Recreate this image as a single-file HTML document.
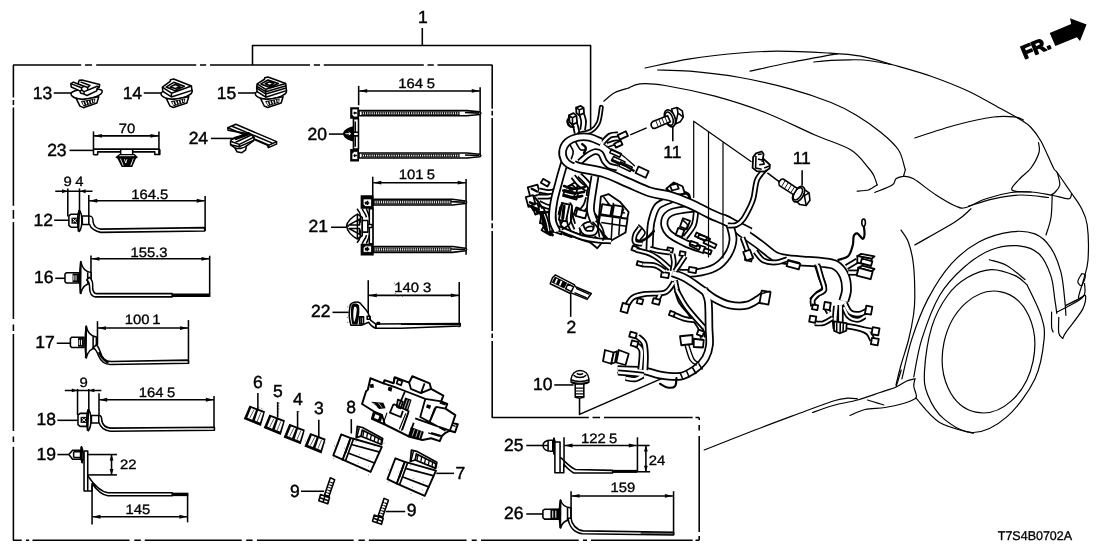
<!DOCTYPE html>
<html><head><meta charset="utf-8"><title>T7S4B0702A</title>
<style>
html,body{margin:0;padding:0;background:#fff;}
svg{display:block;filter:grayscale(1)}
text{text-rendering:geometricPrecision;font-family:"Liberation Sans",Arial,Helvetica,sans-serif;fill:#000;stroke:#000;stroke-width:0.32px}
.l{fill:none;stroke:#000;stroke-width:1.55;stroke-linejoin:round;vector-effect:non-scaling-stroke}
.t{fill:none;stroke:#000;stroke-width:0.8;stroke-linejoin:round;vector-effect:non-scaling-stroke}
.b{fill:none;stroke:#000;stroke-width:1.6;stroke-linejoin:round;stroke-linecap:round;vector-effect:non-scaling-stroke}
.w{fill:#fff;stroke:#000;stroke-width:1.55;stroke-linejoin:round;vector-effect:non-scaling-stroke}
.wb{fill:#fff;stroke:#000;stroke-width:1.8;stroke-linejoin:round;vector-effect:non-scaling-stroke}
.wt{fill:#fff;stroke:#000;stroke-width:0.8;stroke-linejoin:round;vector-effect:non-scaling-stroke}
.c{fill:none;stroke:#000;stroke-width:1.2;stroke-linejoin:round;stroke-linecap:round}
.k{fill:#000;stroke:none}
.g{fill:#777;stroke:none}
.n{font-size:17.5px;stroke-width:0.45px}
.d{font-size:13.5px}
</style></head><body>
<svg width="1108" height="554" viewBox="0 0 1108 554">
<rect width="1108" height="554" fill="#fff"/>
<text class="n" transform="translate(423.00 23.30) scale(1.0 1)" x="-5.07" y="0">1</text>
<path class="l" d="M422.3,28 V45.5 M252.5,65 V45.5 H590.6 V129"/>
<path class="l" d="M13.4,65 V97.5 M13.4,100 V105 M13.4,107.5 V205.7 M13.4,210 V218.7 M13.4,222 V319 M13.4,324.4 V331 M13.4,334 V431 M13.4,436.6 V442 M13.4,446.7 V540.3"/>
<path class="l" d="M13,65 H81.2 M85,65 H92 M96.2,65 H196.2 M200,65 H206.2 M210,65 H310 M313.8,65 H320 M323.8,65 H423.8 M427.5,65 H433.8 M437.5,65 H492.5"/>
<path class="l" d="M13,540.3 H21.7 M26,540.3 H29.2 M32.5,540.3 H129.5 M134.3,540.3 H140.8 M144.7,540.3 H241.7 M246.2,540.3 H252.6 M256.9,540.3 H353.7 M358.5,540.3 H364.8 M368.8,540.3 H466.6 M471.7,540.3 H476.7 M481,540.3 H578.7 M583,540.3 H587 M591,540.3 H692.7 M695.5,540.3 H699.2"/>
<path class="l" d="M492.2,65 V108.7 M492.2,110.8 V115.5 M492.2,118 V220.5 M492.2,223.3 V228.2 M492.2,231 V331 M492.2,333.5 V338 M492.2,341 V417.5"/>
<path class="l" d="M491.7,417.5 H588.8 M592.5,417.5 H600.1 M604,417.5 H692.7 M695.5,417.5 H699.2 M699.2,417.5 V420 M699.2,425 V430.6 M699.2,436 V532 M699.2,536 V540.3"/>
<text class="n" transform="translate(42.75 98.75) scale(1.0 1)" x="-9.97" y="0">13</text>
<path class="l" d="M53.75,93.0 L71.25,93.0"/>
<text class="n" transform="translate(132.75 98.75) scale(1.0 1)" x="-10.11" y="0">14</text>
<path class="l" d="M143.75,93.0 L162.0,93.0"/>
<text class="n" transform="translate(226.88 98.75) scale(1.0 1)" x="-10.02" y="0">15</text>
<path class="l" d="M238.0,93.0 L256.25,93.0"/>
<g transform="translate(86.5 93.5) scale(0.12636)" ><path class="w" d="M-112,-12 C-140,5 -112,38 -40,47 C40,48 132,12 124,-22 C110,-45 -60,-45 -112,-12Z"/><path class="w" d="M-82,38 L-52,100 L-25,112 L82,76 L97,26 L-30,48Z"/><path class="k" d="M-45,62 L70,40 L66,72 L-22,102 Z"/><path d="M-30,66 L-18,92 M-8,62 L2,86 M14,58 L22,80 M36,52 L42,74 M56,48 L58,68" stroke="#fff" stroke-width="9" fill="none"/><path class="w" d="M-124,-78 L-104,-90 L-67,-75 L-58,-104 L-36,-107 L104,-72 L101,-50 L84,-41 L81,-21 L4,16 L-21,5 L-47,-4 L-53,-21 L-121,-52 Z"/><path class="l" d="M-67,-75 L10,-47 L27,-64 L-47,-92 M-124,-78 L-40,-45 L-36,-25 L-53,-21 M-40,-45 L-20,-58 M-21,5 L-18,-15 L84,-58 L101,-50 M-18,-15 L-36,-25 M10,-47 L8,-30"/></g>
<g transform="translate(176.5 93.4) scale(0.12636)" ><path class="w" d="M-112,-12 C-140,5 -112,38 -40,47 C40,48 132,12 124,-22 C110,-45 -60,-45 -112,-12Z"/><path class="w" d="M-82,38 L-52,100 L-25,112 L82,76 L97,26 L-30,48Z"/><path class="k" d="M-45,62 L70,40 L66,72 L-22,102 Z"/><path d="M-30,66 L-18,92 M-8,62 L2,86 M14,58 L22,80 M36,52 L42,74 M56,48 L58,68" stroke="#fff" stroke-width="9" fill="none"/><path class="w" d="M-112,-50 L-50,-95 L-48,-108 L-22,-114 L118,-58 L122,-24 L-40,28 L-108,-16 Z"/><path class="l" d="M-112,-50 L-40,-2 L118,-58 M-40,-2 L-40,28 M-82,-50 L-22,-88 L62,-56 L-14,-22 Z M-50,-50 L-12,-70 L28,-55 L-10,-38Z"/></g>
<g transform="translate(270.8 93.4) scale(0.12636)" ><path class="w" d="M-112,-12 C-140,5 -112,38 -40,47 C40,48 132,12 124,-22 C110,-45 -60,-45 -112,-12Z"/><path class="w" d="M-82,38 L-52,100 L-25,112 L82,76 L97,26 L-30,48Z"/><path class="k" d="M-45,62 L70,40 L66,72 L-22,102 Z"/><path d="M-30,66 L-18,92 M-8,62 L2,86 M14,58 L22,80 M36,52 L42,74 M56,48 L58,68" stroke="#fff" stroke-width="9" fill="none"/><path class="w" d="M-112,-42 L-108,-75 L-50,-112 L-48,-124 L-22,-130 L118,-78 L124,-22 L-40,30 L-108,-14 Z"/><path class="l" d="M-108,-75 L-40,-32 L118,-78 M-112,-58 L-40,-14 L122,-60 M-112,-42 L-40,4 L122,-42 M-40,-32 L-40,30 M-78,-75 L-22,-106 L60,-78 L-14,-48 Z M-44,-76 L-12,-92 L24,-79 L-10,-62Z"/></g>
<text class="d" transform="translate(126.97 133.32) scale(1.1 1)" x="-7.56" y="0">70</text>
<path class="l" d="M93.48,131.43 L93.48,154.8"/>
<path class="l" d="M158.94,131.43 L158.94,154.42"/>
<path class="l" d="M93.86,135.85 L158.56,135.85"/>
<path class="k" d="M93.86,135.85 L101.86,133.95 L101.86,137.75Z"/>
<path class="k" d="M158.56,135.85 L150.56,137.75 L150.56,133.95Z"/>
<text class="n" transform="translate(56.88 156.25) scale(1.0 1)" x="-9.76" y="0">23</text>
<path class="l" d="M69.48,150.38 L93.48,150.38"/>
<g transform="translate(60 115) scale(0.12636)" ><path class="l" d="M265,270 H783 L790,276 V312 H750 V292 H575 M480,292 H298 V315 H265 M480,270 V308 M575,270 V308"/><path class="k" d="M438,335 L470,308 H590 L617,335 L600,347 L572,412 H488 L455,347Z"/><path d="M470,322 H588 M478,345 L500,400 M560,400 L580,345 M510,350 L520,380 L530,350" stroke="#fff" stroke-width="7" fill="none"/></g>
<text class="n" transform="translate(198.51 144.12) scale(1.0 1)" x="-9.89" y="0">24</text>
<path class="l" d="M210.96,138.43 L233.07,138.43"/>
<g transform="translate(180 110) scale(0.12636)" ><path class="w" d="M378,140 L442,113 L765,250 L763,270 L700,298 L690,278 L585,232 L585,215 L545,200 L520,185 L380,160Z"/><path class="l" d="M378,140 L705,278 L765,250 M705,278 L700,298 M412,128 L735,264"/><path class="w" d="M405,235 L545,180 L585,215 L585,240 L525,285 L520,315 L490,338 L450,330 L435,300 L400,275 L400,250Z"/><path class="k" d="M420,215 L545,180 L560,195 L440,240Z"/><path class="l" d="M405,250 L470,272 L585,215 M470,272 L470,290 L585,240 M400,275 L470,290 M435,300 C460,310 500,305 525,285 M440,255 L560,200"/></g>
<text class="d" transform="translate(67.58 186.25) scale(1.1 1)" x="-3.75" y="0">9</text>
<text class="d" transform="translate(79.38 186.25) scale(1.1 1)" x="-3.71" y="0">4</text>
<path class="l" d="M55.23,191.23 L92.49,191.23"/>
<path class="k" d="M67.58,191.23 L62.08,193.13 L62.08,189.33Z"/>
<path class="k" d="M80.14,191.23 L85.64,189.33 L85.64,193.13Z"/>
<path class="l" d="M67.8,188.41 L67.8,216.57"/>
<path class="l" d="M79.49,188.41 L79.49,212.24"/>
<text class="d" transform="translate(150.00 199.24) scale(1.1 1)" x="-17.11" y="0">164.5</text>
<path class="l" d="M89.24,200.76 L204.69,200.76"/>
<path class="k" d="M89.24,200.76 L97.24,198.86 L97.24,202.66Z"/>
<path class="k" d="M204.69,200.76 L196.69,202.66 L196.69,198.86Z"/>
<path class="l" d="M88.81,194.91 L88.81,216.57"/>
<path class="l" d="M205.12,195.99 L205.12,231.08"/>
<text class="n" transform="translate(43.33 225.88) scale(1.0 1)" x="-9.93" y="0">12</text>
<path class="l" d="M54.15,220.25 L68.23,220.25"/>
<g transform="translate(0 170) scale(0.21660)" ><path class="w" d="M318,212 L328,204 H362 V264 H328 L318,256Z"/><path class="k" d="M330,220 H360 V248 H330Z"/><path d="M336,226 L354,242 M336,242 L354,226" stroke="#fff" stroke-width="1" fill="none" vector-effect="non-scaling-stroke"/><path class="w" d="M366,186.0 C382,204.0 382,264.0 366,284.0 C356,264.0 356,204.0 366,186.0Z"/><path class="l" d="M366,186.0 L362,284.0" style="stroke-width:1.8"/><path class="w" d="M380,212 H412 C428,212 430,222 430,240 C432,258 448,270 465,273 L945,266 V282 L465,288 C440,284 418,268 414,252 H380Z"/><path class="l" d="M410,212 V252"/></g>
<text class="d" transform="translate(149.25 256.64) scale(1.1 1)" x="-17.08" y="0">155.3</text>
<path class="l" d="M91.41,258.81 L209.46,258.81"/>
<path class="k" d="M91.41,258.81 L99.41,256.91 L99.41,260.71Z"/>
<path class="k" d="M209.46,258.81 L201.46,260.71 L201.46,256.91Z"/>
<path class="l" d="M90.97,255.56 L90.97,282.63"/>
<path class="l" d="M209.67,255.74 L209.67,296.9"/>
<text class="n" transform="translate(43.97 283.07) scale(1.0 1)" x="-9.97" y="0">16</text>
<path class="l" d="M55.23,278.3 L68.88,278.3"/>
<g transform="translate(0 170) scale(0.21660)" ><path class="w" d="M300,480 L307,474 H363 V522 H307 L300,516Z"/><path class="k" d="M335,478 H361 V518 H335Z"/><path d="M341,486 V510 M351,486 V510" stroke="#fff" stroke-width="1" fill="none" vector-effect="non-scaling-stroke"/><path class="w" d="M373,423 C380,458 395,470 420,473 V523 C395,526 380,538 373,570 C367,528 367,468 373,423Z"/><path class="l" d="M373,423 L371,570" style="stroke-width:1.8"/><path class="l" d="M405,472 V524"/></g>
<g transform="translate(0 280) scale(0.21660)" ><path class="w" d="M412,-12 C425,-5 430,10 428,40 C430,55 436,62 445,63 H795 V78 H440 C425,76 415,60 414,40 C414,20 410,5 400,0Z"/><path class="k" d="M795,62 H968 V78 H795Z"/></g>
<text class="d" transform="translate(137.33 324.40) scale(1.1 1)" x="-11.47" y="0">100</text>
<text class="d" transform="translate(156.50 324.40) scale(1.1 1)" x="-3.92" y="0">1</text>
<path class="l" d="M97.91,328.09 L188.01,328.09"/>
<path class="k" d="M97.91,328.09 L105.91,326.19 L105.91,329.99Z"/>
<path class="k" d="M188.01,328.09 L180.01,329.99 L180.01,326.19Z"/>
<path class="l" d="M97.47,321.15 L97.47,344.98"/>
<path class="l" d="M188.45,320.07 L188.45,364.04"/>
<text class="n" transform="translate(45.16 348.23) scale(1.0 1)" x="-9.93" y="0">17</text>
<path class="l" d="M56.75,343.25 L70.4,343.25"/>
<g transform="translate(0 280) scale(0.21660)" ><path class="w" d="M325,270 L332,264 H388 V312 H332 L325,306Z"/><path class="k" d="M360,268 H386 V308 H360Z"/><path d="M366,276 V300 M376,276 V300" stroke="#fff" stroke-width="1" fill="none" vector-effect="non-scaling-stroke"/><path class="w" d="M398,213 C405,248 420,260 445,263 V313 C420,316 405,328 398,360 C392,318 392,258 398,213Z"/><path class="l" d="M398,213 L396,360" style="stroke-width:1.8"/><path class="l" d="M430,262 V314"/><path class="w" d="M445,300 C455,305 462,330 470,350 C480,370 495,376 515,376 L870,370 V384 L510,390 C480,390 465,375 455,350 C448,330 440,318 430,312Z"/><path class="k" d="M462,330 C470,352 482,368 505,376 L498,386 C475,376 462,356 452,336Z"/></g>
<text class="d" transform="translate(83.61 387.22) scale(1.1 1)" x="-3.75" y="0">9</text>
<path class="l" d="M64.76,390.47 L101.37,390.47"/>
<path class="k" d="M77.33,390.47 L71.83,392.37 L71.83,388.57Z"/>
<path class="k" d="M88.81,390.47 L94.31,388.57 L94.31,392.37Z"/>
<path class="l" d="M77.54,388.92 L77.54,414.91"/>
<path class="l" d="M88.81,388.92 L88.81,410.58"/>
<text class="d" transform="translate(151.41 396.97) scale(1.1 1)" x="-11.54" y="0">164</text>
<text class="d" transform="translate(171.12 396.97) scale(1.1 1)" x="-3.75" y="0">5</text>
<path class="l" d="M99.21,399.75 L213.79,399.75"/>
<path class="k" d="M99.21,399.75 L107.21,397.85 L107.21,401.65Z"/>
<path class="k" d="M213.79,399.75 L205.79,401.65 L205.79,397.85Z"/>
<path class="l" d="M98.99,393.25 L98.99,416.43"/>
<path class="l" d="M214.01,396.06 L214.01,430.29"/>
<text class="n" transform="translate(46.46 425.09) scale(1.0 1)" x="-10.02" y="0">18</text>
<path class="l" d="M57.4,420.32 L77.54,420.32"/>
<g transform="translate(0 390) scale(0.21660)" ><path class="w" d="M360,116 L370,108 H404 V168 H370 L360,160Z"/><path class="k" d="M372,124 H402 V152 H372Z"/><path d="M378,130 L396,146 M378,146 L396,130" stroke="#fff" stroke-width="1" fill="none" vector-effect="non-scaling-stroke"/><path class="w" d="M408,90.0 C424,108.0 424,168.0 408,188.0 C398,168.0 398,108.0 408,90.0Z"/><path class="l" d="M408,90.0 L404,188.0" style="stroke-width:1.8"/><path class="w" d="M422,118 H458 C468,118 470,128 470,142 C474,162 490,174 510,176 L990,172 V186 L510,190 C482,188 462,170 458,152 H422Z"/><path class="l" d="M456,118 V152"/></g>
<text class="n" transform="translate(46.46 459.75) scale(1.0 1)" x="-9.97" y="0">19</text>
<path class="l" d="M57.4,454.55 L68.88,454.55"/>
<g transform="translate(0 390) scale(0.21660)" ><path class="w" d="M318,298 L335,278 H372 V320 H335Z"/><path class="l" d="M340,285 V312 M340,285 H372 M340,312 H372"/><path class="w" d="M376,262 C386,280 386,318 380,336 C372,318 372,280 376,262Z"/><path class="l" d="M376,262 L378,336" style="stroke-width:1.8"/><path class="w" d="M388,282 H405 V395 C425,425 460,470 500,474 L795,474 V488 L498,488 C470,486 445,460 425,432 V466 H388Z"/><path class="k" d="M795,474 H870 V490 H795Z"/><path class="l" d="M405,395 V466"/></g>
<path class="l" d="M87.72,454.55 L116.97,454.55"/>
<path class="l" d="M87.72,474.91 L116.97,474.91"/>
<path class="l" d="M111.55,454.55 L111.55,474.91"/>
<path class="k" d="M111.55,454.55 L113.45,460.55 L109.65,460.55Z"/>
<path class="k" d="M111.55,474.91 L109.65,468.91 L113.45,468.91Z"/>
<text class="d" transform="translate(128.12 469.06) scale(1.1 1)" x="-7.49" y="0">22</text>
<text class="d" transform="translate(138.09 514.14) scale(1.1 1)" x="-11.47" y="0">145</text>
<path class="l" d="M92.49,516.74 L187.36,516.74"/>
<path class="k" d="M92.49,516.74 L100.49,514.84 L100.49,518.64Z"/>
<path class="k" d="M187.36,516.74 L179.36,518.64 L179.36,514.84Z"/>
<path class="l" d="M92.06,484.9 L92.06,524.54"/>
<path class="l" d="M187.58,495.73 L187.58,522.37"/>
<text class="n" transform="translate(513.84 451.35) scale(1.0 1)" x="-9.80" y="0">25</text>
<path class="l" d="M526.27,445.49 L542.92,445.49"/>
<g transform="translate(500 415) scale(0.23454)" ><path class="w" d="M183,130 C185,112 200,106 225,108 V154 C200,156 185,148 183,130Z"/><path class="l" d="M205,108 V154 M183,130 H205"/><path class="w" d="M230,98 C238,115 238,150 232,168 C225,150 225,115 230,98Z"/><path class="l" d="M230,98 L231,168" style="stroke-width:1.8"/><path class="w" d="M234,115 H256 V180 C275,195 300,225 322,232 L480,236 V247 L315,247 C300,240 285,225 272,210 V246 H234Z"/><path class="l" d="M256,180 V246"/><path class="k" d="M480,234 H586 V247 H480Z"/></g>
<text class="d" transform="translate(593.59 442.68) scale(1.1 1)" x="-11.41" y="0">122</text>
<text class="d" transform="translate(613.17 442.68) scale(1.1 1)" x="-3.75" y="0">5</text>
<path class="l" d="M564.5,445.49 L636.74,445.49"/>
<path class="k" d="M564.5,445.49 L572.50,443.59 L572.50,447.39Z"/>
<path class="k" d="M636.74,445.49 L628.74,447.39 L628.74,443.59Z"/>
<path class="l" d="M564.03,437.28 L564.03,467.07"/>
<path class="l" d="M637.44,437.28 L637.44,471.76"/>
<path class="l" d="M637.44,445.49 L649.64,445.49"/>
<path class="l" d="M637.44,471.76 L650.11,471.76"/>
<path class="l" d="M645.89,445.49 L645.89,471.76"/>
<path class="k" d="M645.89,445.49 L647.79,451.49 L643.99,451.49Z"/>
<path class="k" d="M645.89,471.76 L643.99,465.76 L647.79,465.76Z"/>
<text class="d" transform="translate(657.14 464.72) scale(1.1 1)" x="-7.63" y="0">24</text>
<text class="d" transform="translate(623.13 491.93) scale(1.1 1)" x="-11.44" y="0">159</text>
<path class="l" d="M571.54,495.92 L672.86,495.92"/>
<path class="k" d="M571.54,495.92 L579.54,494.02 L579.54,497.82Z"/>
<path class="k" d="M672.86,495.92 L664.86,497.82 L664.86,494.02Z"/>
<path class="l" d="M571.07,491.23 L571.07,521.72"/>
<path class="l" d="M673.56,491.23 L673.56,535.09"/>
<text class="n" transform="translate(513.84 519.37) scale(1.0 1)" x="-9.76" y="0">26</text>
<path class="l" d="M526.27,513.98 L542.92,513.98"/>
<g transform="translate(500 415) scale(0.23454)" ><path class="w" d="M183,408 L190,402 H250 V444 H190 L183,438Z"/><path class="k" d="M215,400 H250 V446 H215Z"/><path d="M225,408 V438 M238,408 V438" stroke="#fff" stroke-width="1" fill="none" vector-effect="non-scaling-stroke"/><path class="w" d="M258,362 C264,385 278,394 302,396 V446 C278,448 264,458 258,482 C252,450 252,395 258,362Z"/><path class="l" d="M258,362 L257,482" style="stroke-width:1.8"/><path class="l" d="M288,396 V447"/><path class="w" d="M290,440 H303 C305,465 325,490 355,494 L740,500 V512 L350,506 C318,502 295,478 290,440Z"/><path class="k" d="M600,498 L740,500 V512 L600,510Z" opacity="0.6"/></g>
<path class="c" d="M645.0,68.0 C652.5,66.5 674.2,61.2 690.0,58.8 C705.8,56.2 725.4,54.2 740.0,53.0 C754.6,51.8 762.9,51.2 777.5,51.2 C792.1,51.2 813.6,52.2 827.5,53.0 C841.4,53.8 850.0,54.2 861.0,56.2 C872.0,58.2 881.8,61.7 893.5,65.0 C905.2,68.3 918.5,71.9 931.0,76.2 C943.5,80.6 956.8,85.8 968.5,91.2 C980.2,96.7 992.2,104.0 1001.0,108.8 C1009.8,113.5 1016.0,116.9 1021.0,120.0 C1026.0,123.1 1027.7,124.0 1031.0,127.5 C1034.3,131.0 1037.2,134.5 1041.0,141.2 C1044.8,148.0 1050.8,162.8 1053.5,168.0 C1056.2,173.2 1054.3,168.4 1057.2,172.5 C1060.2,176.6 1067.0,186.7 1071.0,192.5 C1075.0,198.3 1078.3,202.1 1081.0,207.5 C1083.7,212.9 1086.1,216.2 1087.2,225.0 C1088.4,233.8 1088.6,250.8 1088.0,260.0 C1087.4,269.2 1085.1,273.7 1083.5,280.0 C1081.9,286.3 1078.2,295.4 1078.5,298.0 C1078.8,300.6 1084.7,293.6 1085.4,295.5 C1086.1,297.4 1085.7,303.4 1082.6,309.4 C1079.5,315.3 1070.0,326.4 1066.7,331.2 C1063.4,336.0 1063.4,337.2 1062.7,338.4" />
<path class="c" d="M813.8,62.0 C816.6,61.7 825.0,60.7 831.0,60.3 C837.0,59.9 844.6,59.8 850.0,59.8 C855.4,59.8 858.8,59.6 863.5,60.0 C868.2,60.4 873.4,61.2 878.0,62.0 C882.6,62.8 888.8,64.1 891.0,64.5" />
<path class="c" d="M750.0,71.2 C756.7,69.8 775.4,65.4 790.0,62.5 C804.6,59.6 829.6,55.2 837.5,53.8" />
<path class="c" d="M657.5,70.0 C662.9,70.2 676.2,70.0 690.0,71.2 C703.8,72.5 723.3,74.6 740.0,77.5 C756.7,80.4 774.8,84.6 790.0,88.8 C805.2,92.9 820.0,98.1 831.0,102.5 C842.0,106.9 847.7,110.0 856.0,115.0 C864.3,120.0 873.9,126.7 881.0,132.5 C888.1,138.3 894.5,144.1 898.5,150.0 C902.5,155.9 903.6,164.7 904.8,168.0 C905.9,171.3 905.5,168.6 905.2,170.0 C905.0,171.4 903.8,175.2 903.5,176.2" />
<path class="c" d="M903.5,176.2 C902.2,176.7 897.9,177.3 896.0,178.8 C894.1,180.2 895.8,182.7 892.2,185.0 C888.7,187.3 877.7,191.2 874.8,192.5" />
<path class="c" d="M903.5,176.2 C905.2,176.7 908.1,175.6 913.5,178.8 C918.9,181.9 928.9,190.4 936.0,195.0 C943.1,199.6 951.0,204.2 956.0,206.2 C961.0,208.3 961.0,208.8 966.0,207.5 C971.0,206.2 978.5,201.2 986.0,198.8 C993.5,196.2 1003.5,193.6 1011.0,192.5 C1018.5,191.4 1024.3,191.6 1031.0,192.0 C1037.7,192.4 1044.8,193.9 1051.0,195.0 C1057.2,196.1 1065.1,199.0 1068.5,198.8 C1071.9,198.5 1071.0,194.6 1071.5,193.8" />
<path class="c" d="M968.5,206.2 C972.7,205.0 984.8,200.6 993.5,198.8 C1002.2,196.9 1011.8,195.2 1021.0,195.0 C1030.2,194.8 1043.9,197.1 1048.5,197.5" />
<path class="c" d="M603.8,101.2 C605.6,99.8 610.8,94.7 615.0,92.5 C619.2,90.3 626.5,88.8 628.8,88.0" />
<path class="c" d="M628.8,88.0 C630.6,87.3 634.0,84.2 640.0,83.8 C646.0,83.3 652.5,83.4 665.0,85.5 C677.5,87.6 698.3,91.8 715.0,96.2 C731.7,100.8 748.3,106.0 765.0,112.5 C781.7,119.0 800.7,128.8 815.0,135.0 C829.3,141.2 842.1,144.5 851.0,150.0 C859.9,155.5 864.8,163.8 868.5,168.0 C872.2,172.2 872.0,172.2 873.5,175.0 C875.0,177.8 876.6,183.3 877.2,185.0" />
<path class="c" d="M877.2,185.0 C876.4,185.5 870.5,189.4 868.5,190.0 C866.5,190.6 858.4,191.1 857.2,191.2" />
<path class="c" d="M914.8,138.0 C921.6,135.8 942.9,128.5 956.0,125.0 C969.1,121.5 983.7,118.3 993.5,117.0 C1003.3,115.7 1009.8,116.5 1014.8,117.0 C1019.8,117.5 1022.0,119.5 1023.5,120.0" />
<path class="c" d="M1038.5,142.5 C1038.6,144.2 1040.2,148.2 1039.0,152.5 C1037.8,156.8 1034.0,163.8 1031.0,168.0 C1028.0,172.2 1024.1,174.2 1021.0,177.5 C1017.9,180.8 1013.3,185.2 1012.2,187.5 C1011.2,189.8 1011.6,190.5 1014.8,191.2 C1017.9,192.0 1028.3,191.9 1031.0,192.0" />
<path class="c" d="M1057.2,172.5 C1057.7,174.6 1060.2,181.7 1059.8,185.0 C1059.3,188.3 1056.2,190.8 1054.8,192.5 C1053.3,194.2 1051.6,194.6 1051.0,195.0" />
<path class="c" d="M1052.2,195.0 C1052.0,198.8 1052.0,210.8 1051.0,217.5 C1050.0,224.2 1046.8,232.1 1046.0,235.0" />
<path class="c" d="M901.0,230.0 C902.2,232.1 906.4,236.7 908.5,242.5 C910.6,248.3 912.5,255.8 913.5,265.0 C914.5,274.2 914.8,289.2 914.8,297.5 C914.8,305.8 914.5,307.9 913.5,315.0 C912.5,322.1 910.6,331.7 908.5,340.0 C906.4,348.3 903.1,357.5 901.0,365.0 C898.9,372.5 896.8,381.7 896.0,385.0" />
<path class="c" d="M914.8,245.0 C921.6,241.0 946.6,227.3 956.0,221.2 C965.4,215.2 968.5,210.8 971.0,208.8" />
<path class="c" d="M901.9,378.9 C903.6,372.2 907.5,352.4 911.8,339.1 C916.1,325.9 921.1,312.0 927.7,299.4 C934.3,286.9 942.9,273.3 951.5,263.7 C960.1,254.1 969.4,247.1 979.3,241.8 C989.3,236.5 1001.8,233.2 1011.1,231.9 C1020.4,230.6 1028.3,231.3 1034.9,233.9 C1041.6,236.5 1046.5,241.5 1050.8,247.8 C1055.1,254.1 1058.4,263.0 1060.8,271.6 C1063.1,280.2 1063.9,292.1 1064.7,299.4 C1065.6,306.7 1065.7,312.7 1065.9,315.3" />
<path class="c" d="M913.8,376.9 C915.1,370.6 917.5,352.7 921.8,339.1 C926.1,325.6 932.7,307.4 939.6,295.5 C946.6,283.5 954.9,275.3 963.5,267.7 C972.1,260.0 982.0,253.4 991.3,249.8 C1000.5,246.1 1011.1,245.1 1019.1,245.8 C1027.0,246.5 1033.6,248.8 1038.9,253.8 C1044.2,258.7 1048.2,268.0 1050.8,275.6 C1053.5,283.2 1053.8,293.1 1054.8,299.4 C1055.8,305.7 1056.5,311.0 1056.8,313.3" />
<path class="c" d="M989.3,259.7 C992.2,260.7 1001.2,262.4 1007.1,265.7 C1013.1,269.0 1022.0,277.3 1025.0,279.6" />
<ellipse class="c" cx="988.5" cy="352" rx="45.5" ry="61.5" transform="rotate(11.8 988.5 352)"/>
<path class="c" d="M1027.0,284.7 C1029.3,289.8 1038.1,306.2 1040.9,315.3 C1043.7,324.4 1045.1,328.5 1044.1,339.1 C1043.1,349.7 1041.1,366.0 1034.9,378.9 C1028.8,391.8 1017.4,407.6 1007.1,416.6 C996.9,425.5 984.0,432.1 973.4,432.5 C962.8,432.8 951.2,424.9 943.6,418.6 C936.0,412.3 930.9,402.7 927.7,394.7 C924.5,386.8 923.9,382.2 924.5,370.9 C925.2,359.7 927.9,339.8 931.7,327.2 C935.5,314.7 941.6,303.7 947.6,295.5 C953.5,287.2 960.1,281.9 967.4,277.6 C974.7,273.3 983.3,270.0 991.3,269.6 C999.2,269.3 1009.1,273.1 1015.1,275.6 C1021.0,278.1 1025.0,283.2 1027.0,284.7" />
<path class="c" d="M915.8,397.9 C919.8,402.0 930.0,416.7 939.6,422.5 C949.2,428.4 967.8,431.5 973.4,433.3" />
<path class="c" d="M1056.8,312.1 C1061.1,309.7 1078.0,302.2 1082.6,297.4 C1087.2,292.7 1084.2,285.9 1084.6,283.5" />
<path class="c" d="M1058.8,317.3 C1058.8,319.9 1058.1,329.7 1058.8,333.2 C1059.4,336.7 1062.1,337.5 1062.7,338.4" />
<path class="c" d="M1051.6,312.1 C1051.6,314.7 1051.4,323.9 1051.6,327.2 C1051.9,330.5 1052.9,331.2 1053.2,332.0" />
<path class="c" d="M1065.9,305.4 C1068.6,304.1 1079.2,298.8 1081.8,297.4" />
<path class="c" d="M1081.8,273.6 C1081.1,274.9 1077.8,279.6 1077.8,281.6 C1077.8,283.5 1080.5,286.5 1081.8,285.5 C1083.1,284.5 1085.4,277.6 1085.4,275.6 C1085.4,273.6 1082.4,273.9 1081.8,273.6" />
<path class="c" d="M704.2,450.0 C712.7,446.7 738.2,436.5 755.0,430.0 C771.8,423.5 791.7,416.2 805.0,411.2 C818.3,406.3 827.9,402.7 835.0,400.5 C842.1,398.3 843.8,398.5 847.5,398.2 C851.2,398.0 855.8,398.7 857.5,398.8" />
<path class="c" d="M812.5,412.5 C816.2,411.2 827.5,407.1 835.0,405.0 C842.5,402.9 850.0,402.1 857.5,400.0 C865.0,397.9 873.5,394.7 880.0,392.5 C886.5,390.3 891.9,388.9 896.2,387.0 C900.6,385.1 903.1,382.6 906.2,381.2 C909.4,379.9 913.5,379.2 915.0,378.8" />
<path class="c" d="M896.2,386.2 C897.1,383.5 900.4,372.7 901.2,370.0" />
<path class="c" d="M915.0,378.8 C914.8,380.0 913.5,383.5 913.8,386.2 C914.0,389.0 916.0,392.9 916.2,395.0 C916.5,397.1 917.3,397.3 915.0,398.8 C912.7,400.2 907.5,402.3 902.5,403.8 C897.5,405.2 891.2,406.5 885.0,407.5 C878.8,408.5 870.8,408.2 865.0,409.5 C859.2,410.8 852.5,414.5 850.0,415.5" />
<path class="c" d="M867.5,400.0 C870.2,400.8 881.0,404.2 883.8,405.0" />
<g transform="translate(533.9 190.9) rotate(-15)"><rect class="wb" x="-5.05" y="-5.05" width="10.11" height="10.11"/></g>
<g transform="translate(530.74 201.01) rotate(-15)"><rect class="wb" x="-3.79" y="-5.05" width="7.58" height="10.11"/></g>
<g transform="translate(538.95 209.86) rotate(-20)"><rect class="wb" x="-5.05" y="-3.16" width="10.11" height="6.32"/></g>
<g transform="translate(545.27 182.69) rotate(30)"><rect class="wb" x="-3.79" y="-2.27" width="7.58" height="4.55"/></g>
<g transform="translate(535.16 206.7) rotate(-20)"><rect class="wb" x="-3.16" y="-2.53" width="6.32" height="5.05"/></g>
<g transform="translate(544.01 218.07) rotate(10)"><rect class="wb" x="-3.16" y="-5.69" width="6.32" height="11.37"/></g>
<g transform="translate(547.17 226.92) rotate(15)"><rect class="wb" x="-3.16" y="-4.42" width="6.32" height="8.85"/></g>
<path d="M539.0,190.3 C540.6,190.6 546.1,192.2 549.1,192.2 C552.0,192.2 555.4,190.6 556.6,190.3" fill="none" stroke="#000" stroke-width="5.70" stroke-linecap="butt" stroke-linejoin="round"/>
<path d="M539.0,190.3 C540.6,190.6 546.1,192.2 549.1,192.2 C552.0,192.2 555.4,190.6 556.6,190.3" fill="none" stroke="#fff" stroke-width="2.20" stroke-linecap="butt" stroke-linejoin="round"/>
<path d="M537.7,196.6 C539.4,196.6 544.9,196.9 547.8,196.6 C550.7,196.3 554.1,195.0 555.4,194.7" fill="none" stroke="#000" stroke-width="5.70" stroke-linecap="butt" stroke-linejoin="round"/>
<path d="M537.7,196.6 C539.4,196.6 544.9,196.9 547.8,196.6 C550.7,196.3 554.1,195.0 555.4,194.7" fill="none" stroke="#fff" stroke-width="2.20" stroke-linecap="butt" stroke-linejoin="round"/>
<path d="M539.0,202.9 C540.4,203.5 545.3,206.1 547.8,206.7 C550.3,207.3 553.1,206.7 554.1,206.7" fill="none" stroke="#000" stroke-width="5.70" stroke-linecap="butt" stroke-linejoin="round"/>
<path d="M539.0,202.9 C540.4,203.5 545.3,206.1 547.8,206.7 C550.3,207.3 553.1,206.7 554.1,206.7" fill="none" stroke="#fff" stroke-width="2.20" stroke-linecap="butt" stroke-linejoin="round"/>
<path d="M541.5,213.0 C542.3,214.1 544.9,217.4 546.5,219.3 C548.2,221.2 550.7,223.5 551.6,224.4" fill="none" stroke="#000" stroke-width="5.70" stroke-linecap="butt" stroke-linejoin="round"/>
<path d="M541.5,213.0 C542.3,214.1 544.9,217.4 546.5,219.3 C548.2,221.2 550.7,223.5 551.6,224.4" fill="none" stroke="#fff" stroke-width="2.20" stroke-linecap="butt" stroke-linejoin="round"/>
<path d="M546.5,213.0 C546.9,214.3 547.9,218.1 548.4,220.6 C549.0,223.1 549.5,226.9 549.7,228.2" fill="none" stroke="#000" stroke-width="2.6" stroke-linecap="round" stroke-linejoin="round"/>
<path d="M535.2,197.8 C535.8,198.7 537.8,201.2 539.0,202.9 C540.1,204.6 541.6,207.1 542.1,208.0" fill="none" stroke="#000" stroke-width="2.0" stroke-linecap="round" stroke-linejoin="round"/>
<g transform="translate(570.54 194.69) rotate(15)"><rect class="wb" x="-6.95" y="-3.16" width="13.90" height="6.32"/></g>
<g transform="translate(562.33 213.02) rotate(15)"><rect class="wb" x="-3.16" y="-7.58" width="6.32" height="15.16"/></g>
<g transform="translate(580.02 212.76) rotate(20)"><rect class="wb" x="-5.37" y="-3.79" width="10.74" height="7.58"/></g>
<g transform="translate(588.87 192.17) rotate(5)"><rect class="wb" x="-1.90" y="-3.16" width="3.79" height="6.32"/></g>
<g transform="translate(573.07 186.48) rotate(-30)"><rect class="wb" x="-4.42" y="-2.53" width="8.85" height="5.05"/></g>
<path d="M573.1,176.4 C574.1,177.6 577.1,181.8 579.4,183.9 C581.7,186.1 585.7,188.2 587.0,189.0" fill="none" stroke="#000" stroke-width="6.10" stroke-linecap="butt" stroke-linejoin="round"/>
<path d="M573.1,176.4 C574.1,177.6 577.1,181.8 579.4,183.9 C581.7,186.1 585.7,188.2 587.0,189.0" fill="none" stroke="#fff" stroke-width="2.60" stroke-linecap="butt" stroke-linejoin="round"/>
<path d="M579.4,175.1 C580.4,176.2 583.8,179.3 585.7,181.4 C587.6,183.5 589.9,186.7 590.8,187.7" fill="none" stroke="#000" stroke-width="6.10" stroke-linecap="butt" stroke-linejoin="round"/>
<path d="M579.4,175.1 C580.4,176.2 583.8,179.3 585.7,181.4 C587.6,183.5 589.9,186.7 590.8,187.7" fill="none" stroke="#fff" stroke-width="2.60" stroke-linecap="butt" stroke-linejoin="round"/>
<path d="M568.0,202.9 C568.4,205.0 569.7,212.0 570.5,215.5 C571.4,219.1 572.6,222.9 573.1,224.4" fill="none" stroke="#000" stroke-width="6.10" stroke-linecap="butt" stroke-linejoin="round"/>
<path d="M568.0,202.9 C568.4,205.0 569.7,212.0 570.5,215.5 C571.4,219.1 572.6,222.9 573.1,224.4" fill="none" stroke="#fff" stroke-width="2.60" stroke-linecap="butt" stroke-linejoin="round"/>
<path d="M588.2,197.8 C587.8,199.1 586.8,203.3 585.7,205.4 C584.7,207.5 582.6,209.6 581.9,210.5" fill="none" stroke="#000" stroke-width="6.10" stroke-linecap="butt" stroke-linejoin="round"/>
<path d="M588.2,197.8 C587.8,199.1 586.8,203.3 585.7,205.4 C584.7,207.5 582.6,209.6 581.9,210.5" fill="none" stroke="#fff" stroke-width="2.60" stroke-linecap="butt" stroke-linejoin="round"/>
<path d="M590.8,213.0 C591.6,213.9 594.1,216.0 595.8,218.1 C597.5,220.2 600.0,224.4 600.9,225.7" fill="none" stroke="#000" stroke-width="6.10" stroke-linecap="butt" stroke-linejoin="round"/>
<path d="M590.8,213.0 C591.6,213.9 594.1,216.0 595.8,218.1 C597.5,220.2 600.0,224.4 600.9,225.7" fill="none" stroke="#fff" stroke-width="2.60" stroke-linecap="butt" stroke-linejoin="round"/>
<path d="M566.8,187.7 C567.6,187.3 570.1,184.8 571.8,185.2 C573.5,185.6 576.4,188.6 576.9,190.3 C577.3,192.0 574.8,194.5 574.3,195.3" fill="none" stroke="#000" stroke-width="1.8" stroke-linecap="round" stroke-linejoin="round"/>
<path d="M561.7,202.9 C562.3,203.5 565.1,204.2 565.5,206.7 C565.9,209.2 565.1,215.1 564.2,218.1 C563.4,221.0 561.1,223.3 560.4,224.4" fill="none" stroke="#000" stroke-width="1.8" stroke-linecap="round" stroke-linejoin="round"/>
<path class="wb" d="M600.87,196.59 L608.45,194.06 L619.82,201.64 L628.67,212.01 L625.13,228.18 L608.45,230.96 L598.59,220.6Z" />
<path class="l" d="M600.9,209.2 L624.9,213.0 M613.5,202.9 L608.5,230.7 M603.4,196.6 L611.0,206.7 L600.9,209.2 M616.0,208.0 L623.6,209.2 L621.1,215.5 L614.8,214.9 M602.1,215.5 L607.2,216.2 L606.6,221.9 L601.5,221.2 M611.0,218.1 L616.0,228.2"/>
<path class="k" d="M607.2,202.9 L611.0,206.7 L608.5,209.2 L604.7,208.0Z M617.3,209.9 L621.1,210.5 L619.8,213.7 L616.7,213.0Z"/>
<path d="M582.5,235.8 C582.7,234.5 582.2,230.1 583.2,228.2 C584.1,226.3 586.3,224.9 588.2,224.4 C590.1,223.9 593.2,224.0 594.5,225.0 C595.9,226.1 596.1,229.8 596.5,230.7" fill="none" stroke="#000" stroke-width="6.50" stroke-linecap="butt" stroke-linejoin="round"/>
<path d="M582.5,235.8 C582.7,234.5 582.2,230.1 583.2,228.2 C584.1,226.3 586.3,224.9 588.2,224.4 C590.1,223.9 593.2,224.0 594.5,225.0 C595.9,226.1 596.1,229.8 596.5,230.7" fill="none" stroke="#fff" stroke-width="3.00" stroke-linecap="butt" stroke-linejoin="round"/>
<g transform="translate(557.91 230.71) rotate(20)"><rect class="wb" x="-4.42" y="-2.27" width="8.85" height="4.55"/></g>
<g transform="translate(568.02 233.87) rotate(20)"><rect class="wb" x="-4.42" y="-1.90" width="8.85" height="3.79"/></g>
<g transform="translate(603.4 218.07) rotate(10)"><rect class="wb" x="-2.27" y="-3.79" width="4.55" height="7.58"/></g>
<g transform="translate(562.5 212.5) rotate(10)"><rect class="wb" x="-3.25" y="-4.50" width="6.50" height="9.00"/></g>
<g transform="translate(581.25 213.75) rotate(15)"><rect class="wb" x="-5.00" y="-3.50" width="10.00" height="7.00"/></g>
<g transform="translate(606.25 210.0) rotate(10)"><rect class="wb" x="-5.00" y="-5.00" width="10.00" height="10.00"/></g>
<g transform="translate(617.5 211.25) rotate(10)"><rect class="wb" x="-4.50" y="-5.50" width="9.00" height="11.00"/></g>
<g transform="translate(596.25 242.5) rotate(40)"><rect class="wb" x="-4.50" y="-3.75" width="9.00" height="7.50"/></g>
<g transform="translate(547.5 230.0) rotate(30)"><rect class="wb" x="-5.00" y="-3.25" width="10.00" height="6.50"/></g>
<path d="M581.2,226.2 C581.9,227.3 582.9,231.5 585.0,232.5 C587.1,233.5 591.9,233.8 593.8,232.5 C595.6,231.2 596.5,226.9 596.2,225.0 C596.0,223.1 593.1,221.9 592.5,221.2" fill="none" stroke="#000" stroke-width="6.50" stroke-linecap="butt" stroke-linejoin="round"/>
<path d="M581.2,226.2 C581.9,227.3 582.9,231.5 585.0,232.5 C587.1,233.5 591.9,233.8 593.8,232.5 C595.6,231.2 596.5,226.9 596.2,225.0 C596.0,223.1 593.1,221.9 592.5,221.2" fill="none" stroke="#fff" stroke-width="3.00" stroke-linecap="butt" stroke-linejoin="round"/>
<path d="M557.5,215.0 C557.9,217.1 557.1,224.2 560.0,227.5 C562.9,230.8 569.6,232.7 575.0,235.0 C580.4,237.3 589.6,240.2 592.5,241.2" fill="none" stroke="#000" stroke-width="5.90" stroke-linecap="butt" stroke-linejoin="round"/>
<path d="M570.0,205.0 C569.8,207.5 568.3,215.8 568.8,220.0 C569.2,224.2 571.9,228.3 572.5,230.0" fill="none" stroke="#000" stroke-width="5.90" stroke-linecap="butt" stroke-linejoin="round"/>
<path d="M600.0,223.8 C600.8,225.6 602.9,232.3 605.0,235.0 C607.1,237.7 611.2,239.2 612.5,240.0" fill="none" stroke="#000" stroke-width="5.50" stroke-linecap="butt" stroke-linejoin="round"/>
<path d="M557.5,215.0 C557.9,217.1 557.1,224.2 560.0,227.5 C562.9,230.8 569.6,232.7 575.0,235.0 C580.4,237.3 589.6,240.2 592.5,241.2" fill="none" stroke="#fff" stroke-width="2.40" stroke-linecap="butt" stroke-linejoin="round"/>
<path d="M570.0,205.0 C569.8,207.5 568.3,215.8 568.8,220.0 C569.2,224.2 571.9,228.3 572.5,230.0" fill="none" stroke="#fff" stroke-width="2.40" stroke-linecap="butt" stroke-linejoin="round"/>
<path d="M600.0,223.8 C600.8,225.6 602.9,232.3 605.0,235.0 C607.1,237.7 611.2,239.2 612.5,240.0" fill="none" stroke="#fff" stroke-width="2.00" stroke-linecap="butt" stroke-linejoin="round"/>
<path class="wb" d="M600.0,215.0 L627.5,218.75 L625.5,232.5 L610.0,241.25 L598.0,227.5Z" />
<path class="l" d="M601.2,222.5 L626.2,226.2 M612.5,217.5 L611.2,240.0 M620.0,218.8 L618.8,235.0"/>
<path d="M542.5,215.0 C542.9,217.1 543.3,224.2 545.0,227.5 C546.7,230.8 551.2,233.8 552.5,235.0" fill="none" stroke="#000" stroke-width="2.8" stroke-linecap="round" stroke-linejoin="round"/>
<path d="M528.8,205.0 C529.8,205.8 532.7,208.8 535.0,210.0 C537.3,211.2 541.2,212.1 542.5,212.5" fill="none" stroke="#000" stroke-width="2.0" stroke-linecap="round" stroke-linejoin="round"/>
<path class="k" d="M541.59,212.27 L548.81,210.47 L553.32,222.2 L552.42,232.13 L546.1,233.94 L541.59,224.01Z" />
<path d="M544.3,214.1 C544.8,215.4 546.2,219.3 547.0,222.2 C547.8,225.1 548.5,229.7 548.8,231.2 M547.0,213.2 C547.5,214.7 549.4,219.3 550.1,222.2 C550.8,225.1 551.0,229.0 551.2,230.3" fill="none" stroke="#fff" stroke-width="1.1"/>
<path d="M564.1,186.1 C566.0,186.6 571.5,188.7 575.0,188.8 C578.4,189.0 583.3,187.3 584.9,187.0" fill="none" stroke="#000" stroke-width="2.6" stroke-linecap="round" stroke-linejoin="round"/>
<path d="M563.2,190.6 C565.1,191.1 570.6,193.1 574.1,193.3 C577.5,193.5 582.4,192.1 584.0,191.9" fill="none" stroke="#000" stroke-width="2.6" stroke-linecap="round" stroke-linejoin="round"/>
<path d="M564.1,195.1 C565.7,195.5 570.2,197.1 573.2,197.3 C576.2,197.4 580.7,196.2 582.2,196.0" fill="none" stroke="#000" stroke-width="2.6" stroke-linecap="round" stroke-linejoin="round"/>
<path d="M531.7,188.8 L537.1,191.5" fill="none" stroke="#000" stroke-width="2.4" stroke-linecap="round" stroke-linejoin="round"/>
<path d="M529.9,202.3 L534.4,204.2" fill="none" stroke="#000" stroke-width="2.4" stroke-linecap="round" stroke-linejoin="round"/>
<path d="M532.6,206.9 L538.9,209.6" fill="none" stroke="#000" stroke-width="2.4" stroke-linecap="round" stroke-linejoin="round"/>
<path d="M537.1,212.3 L541.6,213.5" fill="none" stroke="#000" stroke-width="2.4" stroke-linecap="round" stroke-linejoin="round"/>
<path d="M554.2,226.7 C556.5,227.6 563.1,230.3 567.8,232.1 C572.4,233.9 577.4,236.2 582.2,237.6 C587.0,238.9 591.8,239.6 596.6,240.2 C601.5,240.9 608.7,241.0 611.1,241.2" fill="none" stroke="#000" stroke-width="5.90" stroke-linecap="butt" stroke-linejoin="round"/>
<path d="M554.2,226.7 C556.5,227.6 563.1,230.3 567.8,232.1 C572.4,233.9 577.4,236.2 582.2,237.6 C587.0,238.9 591.8,239.6 596.6,240.2 C601.5,240.9 608.7,241.0 611.1,241.2" fill="none" stroke="#fff" stroke-width="2.40" stroke-linecap="butt" stroke-linejoin="round"/>
<g transform="translate(564.15 212.27) rotate(12)"><rect class="wb" x="-3.61" y="-8.57" width="7.22" height="17.15"/></g>
<path d="M564.1,206.0 L562.7,218.6" fill="none" stroke="#000" stroke-width="3.0" stroke-linecap="round" stroke-linejoin="round"/>
<path d="M571.4,204.2 C571.5,206.0 572.6,211.7 572.3,215.0 C572.0,218.3 571.2,221.6 569.6,224.0 C567.9,226.4 563.6,228.5 562.4,229.4" fill="none" stroke="#000" stroke-width="1.6" stroke-linecap="round" stroke-linejoin="round"/>
<path d="M594.8,218.6 C595.7,219.5 598.7,221.6 600.2,224.0 C601.8,226.4 603.4,230.3 603.9,233.0 C604.3,235.7 603.1,239.0 603.0,240.2" fill="none" stroke="#000" stroke-width="1.6" stroke-linecap="round" stroke-linejoin="round"/>
<path d="M592.1,221.3 C593.0,222.4 596.3,225.1 597.5,227.6 C598.8,230.2 599.0,235.1 599.4,236.6" fill="none" stroke="#000" stroke-width="1.6" stroke-linecap="round" stroke-linejoin="round"/>
<path d="M564.5,162.5 C563.5,165.8 560.5,175.8 558.8,182.5 C557.0,189.2 554.8,196.2 553.8,202.5 C552.7,208.8 552.0,215.2 552.5,220.0 C553.0,224.8 556.2,229.4 557.0,231.2" fill="none" stroke="#000" stroke-width="8.30" stroke-linecap="butt" stroke-linejoin="round"/>
<path d="M595.0,176.2 C594.5,179.4 592.8,189.4 592.0,195.0 C591.2,200.6 590.2,205.6 590.5,210.0 C590.8,214.4 593.4,219.4 594.0,221.2" fill="none" stroke="#000" stroke-width="8.70" stroke-linecap="butt" stroke-linejoin="round"/>
<path d="M564.5,162.5 C563.5,165.8 560.5,175.8 558.8,182.5 C557.0,189.2 554.8,196.2 553.8,202.5 C552.7,208.8 552.0,215.2 552.5,220.0 C553.0,224.8 556.2,229.4 557.0,231.2" fill="none" stroke="#fff" stroke-width="4.80" stroke-linecap="butt" stroke-linejoin="round"/>
<path d="M595.0,176.2 C594.5,179.4 592.8,189.4 592.0,195.0 C591.2,200.6 590.2,205.6 590.5,210.0 C590.8,214.4 593.4,219.4 594.0,221.2" fill="none" stroke="#fff" stroke-width="5.20" stroke-linecap="butt" stroke-linejoin="round"/>
<path d="M577.1,133.3 C576.8,132.0 576.1,127.5 575.3,125.2 C574.6,122.9 573.2,120.7 572.8,119.8" fill="none" stroke="#000" stroke-width="6.50" stroke-linecap="butt" stroke-linejoin="round"/>
<path d="M582.6,130.1 C582.7,128.7 583.8,124.2 583.6,121.6 C583.5,119.0 582.1,115.6 581.8,114.4" fill="none" stroke="#000" stroke-width="6.50" stroke-linecap="butt" stroke-linejoin="round"/>
<path d="M577.1,133.3 C576.8,132.0 576.1,127.5 575.3,125.2 C574.6,122.9 573.2,120.7 572.8,119.8" fill="none" stroke="#fff" stroke-width="3.00" stroke-linecap="butt" stroke-linejoin="round"/>
<path d="M582.6,130.1 C582.7,128.7 583.8,124.2 583.6,121.6 C583.5,119.0 582.1,115.6 581.8,114.4" fill="none" stroke="#fff" stroke-width="3.00" stroke-linecap="butt" stroke-linejoin="round"/>
<path class="wb" d="M576.06,107.69 L580.76,105.88 L583.65,108.05 L584.01,113.1 L579.31,115.27 L576.43,113.1Z" />
<path class="wb" d="M568.84,115.27 L573.54,113.1 L576.43,115.63 L577.15,122.49 L572.45,124.66 L569.57,122.13Z" />
<path class="l" d="M576.1,107.7 L579.3,109.9 L579.3,115.3 M579.3,109.9 L583.6,108.0 M568.8,115.3 L572.5,117.8 L572.5,124.7 M572.5,117.8 L576.4,115.6"/>
<path d="M569.6,117.1 C569.2,117.8 567.3,120.1 567.4,121.6 C567.5,123.1 568.9,125.2 569.9,126.1 C571.0,127.0 572.9,126.8 573.5,127.0" fill="none" stroke="#000" stroke-width="2.4" stroke-linecap="round" stroke-linejoin="round"/>
<path d="M579.5,133.9 C581.4,133.3 588.1,132.7 591.2,130.8 C594.4,128.9 596.8,126.4 598.5,122.5 C600.1,118.6 600.9,109.9 601.3,107.3" fill="none" stroke="#000" stroke-width="4.90" stroke-linecap="round" stroke-linejoin="round"/>
<path d="M579.5,133.9 C581.4,133.3 588.1,132.7 591.2,130.8 C594.4,128.9 596.8,126.4 598.5,122.5 C600.1,118.6 600.9,109.9 601.3,107.3" fill="none" stroke="#fff" stroke-width="1.40" stroke-linecap="round" stroke-linejoin="round"/>
<path d="M603.0,142.3 C604.2,141.2 607.6,136.8 610.2,135.5 C612.7,134.2 616.9,134.6 618.3,134.4" fill="none" stroke="#000" stroke-width="5.90" stroke-linecap="butt" stroke-linejoin="round"/>
<path d="M607.5,145.1 C608.7,144.7 612.5,143.1 614.7,142.7 C616.9,142.3 619.5,142.7 620.5,142.7" fill="none" stroke="#000" stroke-width="5.90" stroke-linecap="butt" stroke-linejoin="round"/>
<path d="M603.0,142.3 C604.2,141.2 607.6,136.8 610.2,135.5 C612.7,134.2 616.9,134.6 618.3,134.4" fill="none" stroke="#fff" stroke-width="2.40" stroke-linecap="butt" stroke-linejoin="round"/>
<path d="M607.5,145.1 C608.7,144.7 612.5,143.1 614.7,142.7 C616.9,142.3 619.5,142.7 620.5,142.7" fill="none" stroke="#fff" stroke-width="2.40" stroke-linecap="butt" stroke-linejoin="round"/>
<g transform="translate(622.82 135.49) rotate(-25)"><rect class="wb" x="-4.51" y="-2.53" width="9.03" height="5.05"/></g>
<g transform="translate(618.3 144.15) rotate(-25)"><rect class="wb" x="-3.61" y="-2.17" width="7.22" height="4.33"/></g>
<path d="M579.5,162.2 C580.8,161.1 585.1,157.1 587.6,155.3 C590.2,153.6 592.7,152.0 594.8,151.7 C597.0,151.4 599.0,152.0 600.6,153.5 C602.2,155.0 602.8,158.7 604.2,160.8 C605.6,162.8 606.7,164.6 608.9,165.8 C611.1,167.0 616.0,167.6 617.4,168.0" fill="none" stroke="#000" stroke-width="6.70" stroke-linecap="butt" stroke-linejoin="round"/>
<path d="M579.5,162.2 C580.8,161.1 585.1,157.1 587.6,155.3 C590.2,153.6 592.7,152.0 594.8,151.7 C597.0,151.4 599.0,152.0 600.6,153.5 C602.2,155.0 602.8,158.7 604.2,160.8 C605.6,162.8 606.7,164.6 608.9,165.8 C611.1,167.0 616.0,167.6 617.4,168.0" fill="none" stroke="#fff" stroke-width="3.20" stroke-linecap="butt" stroke-linejoin="round"/>
<g transform="translate(618.3 161.3) rotate(25)"><rect class="w" x="-6.32" y="-2.35" width="12.64" height="4.69"/></g>
<g transform="translate(625.52 166.71) rotate(25)"><rect class="w" x="-6.32" y="-2.35" width="12.64" height="4.69"/></g>
<g transform="translate(615.6 153.18) rotate(25)"><rect class="w" x="-5.42" y="-1.99" width="10.83" height="3.97"/></g>
<path d="M611.1,159.5 L625.5,165.8 L634.5,171.2" fill="none" stroke="#000" stroke-width="2.4"/>
<g transform="translate(642.13 172.13) rotate(25)"><rect class="wb" x="-5.60" y="-3.61" width="11.19" height="7.22"/></g>
<path d="M603.9,144.2 C605.1,145.1 608.1,147.8 611.1,149.6 C614.1,151.4 618.0,152.3 621.9,155.0 C625.8,157.7 632.4,164.0 634.5,165.8" fill="none" stroke="#000" stroke-width="1.4" stroke-linecap="round" stroke-linejoin="round"/>
<path d="M569.6,144.2 C570.2,145.4 572.9,149.0 573.2,151.4 C573.5,153.8 571.7,157.4 571.4,158.6" fill="none" stroke="#000" stroke-width="1.6" stroke-linecap="round" stroke-linejoin="round"/>
<path d="M575.9,142.3 C576.6,143.6 578.7,148.4 580.4,149.6 C582.1,150.8 584.9,149.6 585.8,149.6" fill="none" stroke="#000" stroke-width="1.6" stroke-linecap="round" stroke-linejoin="round"/>
<path d="M582.2,144.2 C582.8,144.8 585.5,146.3 585.8,147.8 C586.1,149.3 584.3,152.3 584.0,153.2" fill="none" stroke="#000" stroke-width="2.4" stroke-linecap="round" stroke-linejoin="round"/>
<path d="M671.2,199.5 C669.0,200.6 660.8,202.6 657.5,206.2 C654.2,209.9 652.8,216.0 651.5,221.2 C650.2,226.5 650.3,232.7 650.0,237.5 C649.7,242.3 649.6,247.9 649.5,250.0" fill="none" stroke="#000" stroke-width="7.90" stroke-linecap="butt" stroke-linejoin="round"/>
<path d="M671.2,199.5 C669.0,200.6 660.8,202.6 657.5,206.2 C654.2,209.9 652.8,216.0 651.5,221.2 C650.2,226.5 650.3,232.7 650.0,237.5 C649.7,242.3 649.6,247.9 649.5,250.0" fill="none" stroke="#fff" stroke-width="4.40" stroke-linecap="butt" stroke-linejoin="round"/>
<path d="M697.0,208.0 C692.9,208.7 677.9,209.9 672.5,212.0 C667.1,214.1 665.2,217.0 664.5,220.5 C663.8,224.0 665.1,229.2 668.5,233.0 C671.9,236.8 678.9,240.1 685.0,243.0 C691.1,245.9 701.7,249.2 705.0,250.5" fill="none" stroke="#000" stroke-width="8.10" stroke-linecap="butt" stroke-linejoin="round"/>
<path d="M697.0,208.0 C692.9,208.7 677.9,209.9 672.5,212.0 C667.1,214.1 665.2,217.0 664.5,220.5 C663.8,224.0 665.1,229.2 668.5,233.0 C671.9,236.8 678.9,240.1 685.0,243.0 C691.1,245.9 701.7,249.2 705.0,250.5" fill="none" stroke="#fff" stroke-width="4.60" stroke-linecap="butt" stroke-linejoin="round"/>
<g transform="translate(685.0 223.75) rotate(20)"><rect class="wb" x="-3.75" y="-4.50" width="7.50" height="9.00"/></g>
<g transform="translate(680.0 232.5) rotate(20)"><rect class="wb" x="-3.25" y="-3.75" width="6.50" height="7.50"/></g>
<path d="M682.5,220.0 C683.3,220.8 687.1,223.3 687.5,225.0 C687.9,226.7 685.4,229.2 685.0,230.0" fill="none" stroke="#000" stroke-width="1.6" stroke-linecap="round" stroke-linejoin="round"/>
<path d="M696.2,210.0 C695.8,212.5 695.6,220.4 693.8,225.0 C691.9,229.6 686.5,235.4 685.0,237.5" fill="none" stroke="#000" stroke-width="6.10" stroke-linecap="butt" stroke-linejoin="round"/>
<path d="M696.2,210.0 C695.8,212.5 695.6,220.4 693.8,225.0 C691.9,229.6 686.5,235.4 685.0,237.5" fill="none" stroke="#fff" stroke-width="2.60" stroke-linecap="butt" stroke-linejoin="round"/>
<path class="wb" d="M666.25,188.75 L673.75,182.5 L682.5,186.25 L685.0,193.75 L675.0,195.0Z" />
<path class="wb" d="M670.0,185.5 L677.0,183.75 L678.75,188.75 L672.0,190.5Z" />
<path d="M685.0,192.5 C685.6,192.9 687.9,193.8 688.8,195.0 C689.6,196.2 689.8,199.2 690.0,200.0" fill="none" stroke="#000" stroke-width="3" stroke-linecap="round" stroke-linejoin="round"/>
<path d="M601.2,142.0 C599.2,141.2 593.3,138.1 589.4,137.3 C585.5,136.5 581.4,136.5 577.7,137.3 C574.0,138.1 569.9,139.8 567.4,142.0 C564.9,144.2 563.3,147.6 562.7,150.5 C562.2,153.4 562.9,157.0 564.1,159.5 C565.4,162.0 567.9,164.0 570.5,165.4 C573.0,166.9 578.0,167.6 579.5,168.0" fill="none" stroke="#000" stroke-width="8.50" stroke-linecap="butt" stroke-linejoin="round"/>
<path d="M573.8,165.5 C575.0,165.9 576.0,166.8 581.2,168.0 C586.5,169.2 597.3,170.6 605.0,173.0 C612.7,175.4 620.0,179.3 627.5,182.5 C635.0,185.7 642.9,189.7 650.0,192.0 C657.1,194.3 663.3,194.3 670.0,196.2 C676.7,198.2 683.3,200.8 690.0,203.8 C696.7,206.7 703.3,210.6 710.0,213.8 C716.7,216.9 723.3,219.4 730.0,222.5 C736.7,225.6 746.7,230.8 750.0,232.5" fill="none" stroke="#000" stroke-width="10.70" stroke-linecap="butt" stroke-linejoin="round"/>
<path d="M722.0,218.5 C723.3,219.2 726.6,220.2 730.0,222.5 C733.4,224.8 737.5,228.8 742.5,232.5 C747.5,236.2 754.6,241.0 760.0,245.0 C765.4,249.0 770.5,254.1 775.0,256.5 C779.5,258.9 782.8,258.8 787.0,259.5 C791.2,260.2 794.3,260.3 800.0,260.8 C805.7,261.3 815.0,261.6 821.0,262.3 C827.0,263.1 831.8,263.1 835.7,265.3 C839.6,267.6 842.5,271.7 844.3,275.8 C846.1,279.9 846.6,285.8 846.5,290.0 C846.4,294.2 844.2,299.2 843.8,301.0" fill="none" stroke="#000" stroke-width="10.70" stroke-linecap="butt" stroke-linejoin="round"/>
<path d="M601.2,142.0 C599.2,141.2 593.3,138.1 589.4,137.3 C585.5,136.5 581.4,136.5 577.7,137.3 C574.0,138.1 569.9,139.8 567.4,142.0 C564.9,144.2 563.3,147.6 562.7,150.5 C562.2,153.4 562.9,157.0 564.1,159.5 C565.4,162.0 567.9,164.0 570.5,165.4 C573.0,166.9 578.0,167.6 579.5,168.0" fill="none" stroke="#fff" stroke-width="5.00" stroke-linecap="butt" stroke-linejoin="round"/>
<path d="M573.8,165.5 C575.0,165.9 576.0,166.8 581.2,168.0 C586.5,169.2 597.3,170.6 605.0,173.0 C612.7,175.4 620.0,179.3 627.5,182.5 C635.0,185.7 642.9,189.7 650.0,192.0 C657.1,194.3 663.3,194.3 670.0,196.2 C676.7,198.2 683.3,200.8 690.0,203.8 C696.7,206.7 703.3,210.6 710.0,213.8 C716.7,216.9 723.3,219.4 730.0,222.5 C736.7,225.6 746.7,230.8 750.0,232.5" fill="none" stroke="#fff" stroke-width="7.20" stroke-linecap="butt" stroke-linejoin="round"/>
<path d="M722.0,218.5 C723.3,219.2 726.6,220.2 730.0,222.5 C733.4,224.8 737.5,228.8 742.5,232.5 C747.5,236.2 754.6,241.0 760.0,245.0 C765.4,249.0 770.5,254.1 775.0,256.5 C779.5,258.9 782.8,258.8 787.0,259.5 C791.2,260.2 794.3,260.3 800.0,260.8 C805.7,261.3 815.0,261.6 821.0,262.3 C827.0,263.1 831.8,263.1 835.7,265.3 C839.6,267.6 842.5,271.7 844.3,275.8 C846.1,279.9 846.6,285.8 846.5,290.0 C846.4,294.2 844.2,299.2 843.8,301.0" fill="none" stroke="#fff" stroke-width="7.20" stroke-linecap="butt" stroke-linejoin="round"/>
<g transform="translate(702.5 237.5) rotate(25)"><rect class="wb" x="-7.50" y="-2.00" width="15.00" height="4.00"/></g>
<g transform="translate(710.0 243.75) rotate(25)"><rect class="wb" x="-6.25" y="-2.00" width="12.50" height="4.00"/></g>
<g transform="translate(695.0 246.25) rotate(25)"><rect class="wb" x="-5.00" y="-1.75" width="10.00" height="3.50"/></g>
<path d="M730.0,225.0 C730.5,227.5 733.4,234.9 733.0,240.0 C732.6,245.1 730.5,250.9 727.5,255.5 C724.5,260.1 720.4,264.6 715.0,267.5 C709.6,270.4 701.9,272.1 695.0,273.0 C688.1,273.9 677.3,273.0 673.8,273.0" fill="none" stroke="#000" stroke-width="8.70" stroke-linecap="butt" stroke-linejoin="round"/>
<path d="M730.0,225.0 C730.5,227.5 733.4,234.9 733.0,240.0 C732.6,245.1 730.5,250.9 727.5,255.5 C724.5,260.1 720.4,264.6 715.0,267.5 C709.6,270.4 701.9,272.1 695.0,273.0 C688.1,273.9 677.3,273.0 673.8,273.0" fill="none" stroke="#fff" stroke-width="5.20" stroke-linecap="butt" stroke-linejoin="round"/>
<path d="M745.0,303.8 C747.1,302.5 754.0,298.3 757.5,296.2 C761.0,294.2 764.8,292.1 766.2,291.2" fill="none" stroke="#000" stroke-width="1.2" stroke-linecap="round" stroke-linejoin="round"/>
<g transform="translate(765.5 296.25) rotate(15)"><rect class="wb" x="-3.25" y="-4.25" width="6.50" height="8.50"/></g>
<path d="M672.5,273.0 C674.6,273.8 680.4,275.5 685.0,278.0 C689.6,280.5 695.0,284.5 700.0,288.0 C705.0,291.5 710.0,295.9 715.0,298.8 C720.0,301.6 724.6,304.0 730.0,305.0 C735.4,306.0 742.5,306.2 747.5,305.0 C752.5,303.8 756.9,300.0 760.0,298.0 C763.1,296.0 765.2,293.8 766.2,293.0" fill="none" stroke="#000" stroke-width="8.50" stroke-linecap="butt" stroke-linejoin="round"/>
<path d="M703.8,288.8 C704.5,290.6 707.2,296.0 708.0,300.0 C708.8,304.0 708.6,307.9 708.8,312.5 C708.9,317.1 708.9,322.1 709.0,327.5 C709.1,332.9 710.1,339.9 709.5,345.0 C708.9,350.1 707.8,354.0 705.5,358.0 C703.2,362.0 699.7,365.7 695.5,368.8 C691.3,371.8 686.4,375.2 680.5,376.2 C674.6,377.3 666.3,376.0 660.0,375.0 C653.7,374.0 649.6,371.4 642.5,370.5 C635.4,369.6 621.7,369.7 617.5,369.5" fill="none" stroke="#000" stroke-width="8.50" stroke-linecap="butt" stroke-linejoin="round"/>
<path d="M672.5,273.0 C674.6,273.8 680.4,275.5 685.0,278.0 C689.6,280.5 695.0,284.5 700.0,288.0 C705.0,291.5 710.0,295.9 715.0,298.8 C720.0,301.6 724.6,304.0 730.0,305.0 C735.4,306.0 742.5,306.2 747.5,305.0 C752.5,303.8 756.9,300.0 760.0,298.0 C763.1,296.0 765.2,293.8 766.2,293.0" fill="none" stroke="#fff" stroke-width="5.00" stroke-linecap="butt" stroke-linejoin="round"/>
<path d="M703.8,288.8 C704.5,290.6 707.2,296.0 708.0,300.0 C708.8,304.0 708.6,307.9 708.8,312.5 C708.9,317.1 708.9,322.1 709.0,327.5 C709.1,332.9 710.1,339.9 709.5,345.0 C708.9,350.1 707.8,354.0 705.5,358.0 C703.2,362.0 699.7,365.7 695.5,368.8 C691.3,371.8 686.4,375.2 680.5,376.2 C674.6,377.3 666.3,376.0 660.0,375.0 C653.7,374.0 649.6,371.4 642.5,370.5 C635.4,369.6 621.7,369.7 617.5,369.5" fill="none" stroke="#fff" stroke-width="5.00" stroke-linecap="butt" stroke-linejoin="round"/>
<path class="l" d="M680.0,372.5 L683.0,379.5 M686.2,370.5 L689.5,377.5 M692.5,367.5 L696.2,374.0 M698.8,363.8 L702.5,369.5"/>
<path d="M618.0,372.5 C620.8,372.8 630.7,373.6 635.0,374.0 C639.3,374.4 642.3,374.8 643.8,375.0" fill="none" stroke="#000" stroke-width="6.10" stroke-linecap="butt" stroke-linejoin="round"/>
<path d="M625.5,378.0 C627.1,378.2 632.1,379.7 635.0,379.2 C637.9,378.8 641.7,376.1 643.0,375.5" fill="none" stroke="#000" stroke-width="6.10" stroke-linecap="butt" stroke-linejoin="round"/>
<path d="M645.0,370.0 C645.1,367.6 645.7,360.0 645.5,355.5 C645.3,351.0 645.3,346.2 644.0,343.0 C642.7,339.8 638.6,337.6 637.5,336.5" fill="none" stroke="#000" stroke-width="6.50" stroke-linecap="butt" stroke-linejoin="round"/>
<path d="M640.5,369.5 C640.7,366.3 642.4,354.8 641.5,350.5 C640.6,346.2 636.1,345.1 635.0,344.0" fill="none" stroke="#000" stroke-width="6.10" stroke-linecap="butt" stroke-linejoin="round"/>
<path d="M618.0,372.5 C620.8,372.8 630.7,373.6 635.0,374.0 C639.3,374.4 642.3,374.8 643.8,375.0" fill="none" stroke="#fff" stroke-width="2.60" stroke-linecap="butt" stroke-linejoin="round"/>
<path d="M625.5,378.0 C627.1,378.2 632.1,379.7 635.0,379.2 C637.9,378.8 641.7,376.1 643.0,375.5" fill="none" stroke="#fff" stroke-width="2.60" stroke-linecap="butt" stroke-linejoin="round"/>
<path d="M645.0,370.0 C645.1,367.6 645.7,360.0 645.5,355.5 C645.3,351.0 645.3,346.2 644.0,343.0 C642.7,339.8 638.6,337.6 637.5,336.5" fill="none" stroke="#fff" stroke-width="3.00" stroke-linecap="butt" stroke-linejoin="round"/>
<path d="M640.5,369.5 C640.7,366.3 642.4,354.8 641.5,350.5 C640.6,346.2 636.1,345.1 635.0,344.0" fill="none" stroke="#fff" stroke-width="2.60" stroke-linecap="butt" stroke-linejoin="round"/>
<g transform="translate(633.0 335.0) rotate(15)"><rect class="wb" x="-3.25" y="-2.50" width="6.50" height="5.00"/></g>
<g transform="translate(634.5 343.75) rotate(15)"><rect class="wb" x="-3.25" y="-2.50" width="6.50" height="5.00"/></g>
<path class="wb" d="M605.0,350.0 L613.75,352.5 L611.25,363.75 L603.0,361.25Z" />
<path class="wb" d="M618.75,350.0 L628.75,353.75 L625.5,365.0 L616.25,362.5Z" />
<path class="wb" d="M613.75,352.5 L617.0,351.25 L615.0,362.5 L611.25,363.75Z" />
<path d="M660.0,383.8 C661.2,384.4 665.0,387.1 667.5,387.5 C670.0,387.9 673.5,387.8 675.0,386.2 C676.5,384.7 676.2,379.4 676.5,378.0" fill="none" stroke="#000" stroke-width="2.2" stroke-linecap="round" stroke-linejoin="round"/>
<path d="M675.0,280.5 C675.8,283.8 677.5,294.6 680.0,300.0 C682.5,305.4 686.7,308.4 690.0,313.0 C693.3,317.6 697.8,323.3 700.0,327.5 C702.2,331.7 702.5,336.2 703.0,338.0" fill="none" stroke="#000" stroke-width="5.90" stroke-linecap="butt" stroke-linejoin="round"/>
<path d="M673.8,282.5 C672.3,284.2 669.8,290.6 665.0,292.5 C660.2,294.4 650.3,293.2 645.0,294.0 C639.7,294.8 636.1,295.5 633.0,297.5 C629.9,299.5 627.6,304.8 626.5,306.2" fill="none" stroke="#000" stroke-width="5.90" stroke-linecap="butt" stroke-linejoin="round"/>
<path d="M660.0,294.5 L657.0,300.5" fill="none" stroke="#000" stroke-width="5.90" stroke-linecap="butt" stroke-linejoin="round"/>
<path d="M673.0,314.2 C675.0,315.0 681.1,318.0 685.0,319.0 C688.9,320.0 694.6,320.2 696.5,320.5" fill="none" stroke="#000" stroke-width="5.70" stroke-linecap="butt" stroke-linejoin="round"/>
<path d="M675.0,280.5 C675.8,283.8 677.5,294.6 680.0,300.0 C682.5,305.4 686.7,308.4 690.0,313.0 C693.3,317.6 697.8,323.3 700.0,327.5 C702.2,331.7 702.5,336.2 703.0,338.0" fill="none" stroke="#fff" stroke-width="2.40" stroke-linecap="butt" stroke-linejoin="round"/>
<path d="M673.8,282.5 C672.3,284.2 669.8,290.6 665.0,292.5 C660.2,294.4 650.3,293.2 645.0,294.0 C639.7,294.8 636.1,295.5 633.0,297.5 C629.9,299.5 627.6,304.8 626.5,306.2" fill="none" stroke="#fff" stroke-width="2.40" stroke-linecap="butt" stroke-linejoin="round"/>
<path d="M660.0,294.5 L657.0,300.5" fill="none" stroke="#fff" stroke-width="2.40" stroke-linecap="butt" stroke-linejoin="round"/>
<path d="M673.0,314.2 C675.0,315.0 681.1,318.0 685.0,319.0 C688.9,320.0 694.6,320.2 696.5,320.5" fill="none" stroke="#fff" stroke-width="2.20" stroke-linecap="butt" stroke-linejoin="round"/>
<g transform="translate(625.0 308.0) rotate(15)"><rect class="wb" x="-3.50" y="-4.25" width="7.00" height="8.50"/></g>
<g transform="translate(640.0 301.25) rotate(15)"><rect class="wb" x="-2.75" y="-2.50" width="5.50" height="5.00"/></g>
<g transform="translate(656.25 301.5) rotate(15)"><rect class="wb" x="-3.50" y="-2.50" width="7.00" height="5.00"/></g>
<g transform="translate(672.0 313.75) rotate(20)"><rect class="wb" x="-2.50" y="-2.25" width="5.00" height="4.50"/></g>
<path d="M676.5,290.0 C677.9,292.5 681.9,300.4 685.0,305.0 C688.1,309.6 691.8,313.8 695.0,317.5 C698.2,321.2 702.5,325.8 704.0,327.5" fill="none" stroke="#000" stroke-width="5.90" stroke-linecap="butt" stroke-linejoin="round"/>
<path d="M676.5,290.0 C677.9,292.5 681.9,300.4 685.0,305.0 C688.1,309.6 691.8,313.8 695.0,317.5 C698.2,321.2 702.5,325.8 704.0,327.5" fill="none" stroke="#fff" stroke-width="2.40" stroke-linecap="butt" stroke-linejoin="round"/>
<path class="wb" d="M680.0,336.25 L692.5,335.0 L692.5,344.0 L681.25,345.25Z" />
<path class="wb" d="M693.75,338.75 L703.75,340.0 L703.0,347.5 L693.75,347.0Z" />
<path d="M685.0,345.0 C685.8,347.5 688.1,356.7 690.0,360.0 C691.9,363.3 695.2,364.2 696.2,365.0" fill="none" stroke="#000" stroke-width="1.4" stroke-linecap="round" stroke-linejoin="round"/>
<path d="M688.8,345.0 C689.6,347.3 692.1,355.8 693.8,358.8 C695.4,361.8 697.9,362.3 698.8,363.0" fill="none" stroke="#000" stroke-width="1.4" stroke-linecap="round" stroke-linejoin="round"/>
<g transform="translate(700.5 333.0) rotate(20)"><rect class="wb" x="-3.00" y="-2.50" width="6.00" height="5.00"/></g>
<g transform="translate(635.0 248.75) rotate(20)"><rect class="wb" x="-3.00" y="-2.25" width="6.00" height="4.50"/></g>
<g transform="translate(640.0 263.75) rotate(15)"><rect class="wb" x="-3.00" y="-2.00" width="6.00" height="4.00"/></g>
<g transform="translate(670.0 250.0) rotate(10)"><rect class="wb" x="-2.75" y="-2.25" width="5.50" height="4.50"/></g>
<g transform="translate(682.5 253.75) rotate(10)"><rect class="wb" x="-2.75" y="-2.25" width="5.50" height="4.50"/></g>
<g transform="translate(692.5 270.0) rotate(10)"><rect class="wb" x="-3.75" y="-2.50" width="7.50" height="5.00"/></g>
<g transform="translate(665.0 275.0) rotate(10)"><rect class="wb" x="-3.75" y="-2.50" width="7.50" height="5.00"/></g>
<g transform="translate(748.75 258.0) rotate(15)"><rect class="wb" x="-3.25" y="-2.75" width="6.50" height="5.50"/></g>
<g transform="translate(707.5 251.25) rotate(20)"><rect class="wb" x="-3.75" y="-2.00" width="7.50" height="4.00"/></g>
<g transform="translate(693.75 243.75) rotate(20)"><rect class="wb" x="-3.75" y="-1.75" width="7.50" height="3.50"/></g>
<g transform="translate(702.5 237.5) rotate(20)"><rect class="wb" x="-4.25" y="-1.75" width="8.50" height="3.50"/></g>
<path d="M636.2,250.0 C638.5,250.6 646.0,252.1 650.0,253.8 C654.0,255.4 656.7,257.5 660.0,260.0 C663.3,262.5 668.3,267.3 670.0,268.8" fill="none" stroke="#000" stroke-width="5.70" stroke-linecap="butt" stroke-linejoin="round"/>
<path d="M636.2,250.0 C638.5,250.6 646.0,252.1 650.0,253.8 C654.0,255.4 656.7,257.5 660.0,260.0 C663.3,262.5 668.3,267.3 670.0,268.8" fill="none" stroke="#fff" stroke-width="2.20" stroke-linecap="butt" stroke-linejoin="round"/>
<path d="M642.5,264.5 C644.6,264.7 651.2,264.4 655.0,265.5 C658.8,266.6 663.3,270.3 665.0,271.2" fill="none" stroke="#000" stroke-width="5.70" stroke-linecap="butt" stroke-linejoin="round"/>
<path d="M642.5,264.5 C644.6,264.7 651.2,264.4 655.0,265.5 C658.8,266.6 663.3,270.3 665.0,271.2" fill="none" stroke="#fff" stroke-width="2.20" stroke-linecap="butt" stroke-linejoin="round"/>
<path d="M650.0,248.8 C651.7,249.2 656.7,250.6 660.0,251.2 C663.3,251.9 668.3,252.3 670.0,252.5" fill="none" stroke="#000" stroke-width="5.70" stroke-linecap="butt" stroke-linejoin="round"/>
<path d="M650.0,248.8 C651.7,249.2 656.7,250.6 660.0,251.2 C663.3,251.9 668.3,252.3 670.0,252.5" fill="none" stroke="#fff" stroke-width="2.20" stroke-linecap="butt" stroke-linejoin="round"/>
<path d="M672.5,253.8 C672.7,255.2 673.8,259.6 673.8,262.5 C673.8,265.4 672.7,269.8 672.5,271.2" fill="none" stroke="#000" stroke-width="5.70" stroke-linecap="butt" stroke-linejoin="round"/>
<path d="M672.5,253.8 C672.7,255.2 673.8,259.6 673.8,262.5 C673.8,265.4 672.7,269.8 672.5,271.2" fill="none" stroke="#fff" stroke-width="2.20" stroke-linecap="butt" stroke-linejoin="round"/>
<path d="M685.0,256.2 C684.2,257.5 681.7,261.2 680.0,263.8 C678.3,266.2 675.8,270.0 675.0,271.2" fill="none" stroke="#000" stroke-width="5.70" stroke-linecap="butt" stroke-linejoin="round"/>
<path d="M685.0,256.2 C684.2,257.5 681.7,261.2 680.0,263.8 C678.3,266.2 675.8,270.0 675.0,271.2" fill="none" stroke="#fff" stroke-width="2.20" stroke-linecap="butt" stroke-linejoin="round"/>
<path d="M742.5,237.5 C743.1,239.2 745.2,244.6 746.2,247.5 C747.3,250.4 748.3,253.8 748.8,255.0" fill="none" stroke="#000" stroke-width="5.70" stroke-linecap="butt" stroke-linejoin="round"/>
<path d="M742.5,237.5 C743.1,239.2 745.2,244.6 746.2,247.5 C747.3,250.4 748.3,253.8 748.8,255.0" fill="none" stroke="#fff" stroke-width="2.20" stroke-linecap="butt" stroke-linejoin="round"/>
<path d="M633.8,237.5 C634.8,238.1 637.7,241.2 640.0,241.2 C642.3,241.2 645.2,239.2 647.5,237.5 C649.8,235.8 652.7,232.3 653.8,231.2" fill="none" stroke="#000" stroke-width="2.6" stroke-linecap="round" stroke-linejoin="round"/>
<path d="M638.8,225.0 C639.8,226.2 644.8,230.0 645.0,232.5 C645.2,235.0 640.8,238.8 640.0,240.0" fill="none" stroke="#000" stroke-width="1.6" stroke-linecap="round" stroke-linejoin="round"/>
<path d="M640.0,227.5 C639.2,228.8 635.8,232.5 635.0,235.0 C634.2,237.5 633.8,241.0 635.0,242.5 C636.2,244.0 641.2,243.5 642.5,243.8" fill="none" stroke="#000" stroke-width="5.50" stroke-linecap="butt" stroke-linejoin="round"/>
<path d="M640.0,227.5 C639.2,228.8 635.8,232.5 635.0,235.0 C634.2,237.5 633.8,241.0 635.0,242.5 C636.2,244.0 641.2,243.5 642.5,243.8" fill="none" stroke="#fff" stroke-width="2.00" stroke-linecap="butt" stroke-linejoin="round"/>
<path d="M767.4,166.6 C766.5,167.7 763.4,170.9 761.7,173.0 C760.0,175.1 758.3,177.0 757.3,179.3 C756.2,181.6 756.0,183.8 755.4,186.9 C754.8,190.0 754.4,194.7 753.5,198.0 C752.6,201.3 751.8,203.4 750.0,207.0 C748.2,210.6 745.3,216.5 743.0,219.5 C740.7,222.5 738.8,224.0 736.2,225.0 C733.8,226.0 729.4,225.4 728.0,225.5" fill="none" stroke="#000" stroke-width="5.90" stroke-linecap="butt" stroke-linejoin="round"/>
<path d="M767.4,166.6 C766.5,167.7 763.4,170.9 761.7,173.0 C760.0,175.1 758.3,177.0 757.3,179.3 C756.2,181.6 756.0,183.8 755.4,186.9 C754.8,190.0 754.4,194.7 753.5,198.0 C752.6,201.3 751.8,203.4 750.0,207.0 C748.2,210.6 745.3,216.5 743.0,219.5 C740.7,222.5 738.8,224.0 736.2,225.0 C733.8,226.0 729.4,225.4 728.0,225.5" fill="none" stroke="#fff" stroke-width="2.40" stroke-linecap="butt" stroke-linejoin="round"/>
<path class="wb" d="M753.11,157.17 L756.01,153.38 L761.7,151.48 L763.59,154.01 L762.96,158.43 L769.91,164.75 L769.53,168.54 L764.23,171.7 L756.64,171.07 L752.6,167.91Z" />
<path class="l" d="M756.0,155.9 L755.6,167.9 L761.7,169.2 M757.9,159.1 L763.0,160.3 L764.2,164.1 L759.2,164.8 M757.9,154.6 L761.7,154.0 M763.0,158.4 L761.7,161.6 M764.2,167.9 L769.3,166.0"/>
<path d="M755.3,251.4 C756.7,252.9 760.0,258.6 763.5,260.5 C766.9,262.3 772.1,262.7 776.1,262.4 C780.1,262.2 785.4,259.8 787.3,259.2" fill="none" stroke="#000" stroke-width="5.90" stroke-linecap="butt" stroke-linejoin="round"/>
<path d="M755.3,251.4 C756.7,252.9 760.0,258.6 763.5,260.5 C766.9,262.3 772.1,262.7 776.1,262.4 C780.1,262.2 785.4,259.8 787.3,259.2" fill="none" stroke="#fff" stroke-width="2.40" stroke-linecap="butt" stroke-linejoin="round"/>
<g transform="translate(793.25 264.08) rotate(15)"><rect class="wb" x="-5.60" y="-2.71" width="11.19" height="5.42"/></g>
<g transform="translate(748.12 255.05) rotate(-20)"><rect class="wb" x="-3.61" y="-4.51" width="7.22" height="9.03"/></g>
<path d="M816.7,264.1 C817.3,266.0 819.1,271.7 820.3,275.8 C821.6,279.9 824.6,285.4 824.1,288.4 C823.7,291.5 819.8,291.9 817.6,293.9 C815.5,295.8 812.4,299.3 811.3,300.4" fill="none" stroke="#000" stroke-width="5.90" stroke-linecap="butt" stroke-linejoin="round"/>
<path d="M816.7,264.1 C817.3,266.0 819.1,271.7 820.3,275.8 C821.6,279.9 824.6,285.4 824.1,288.4 C823.7,291.5 819.8,291.9 817.6,293.9 C815.5,295.8 812.4,299.3 811.3,300.4" fill="none" stroke="#fff" stroke-width="2.40" stroke-linecap="butt" stroke-linejoin="round"/>
<path d="M846.5,267.1 L857.3,260.6" fill="none" stroke="#000" stroke-width="6.10" stroke-linecap="butt" stroke-linejoin="round"/>
<path d="M848.3,272.6 L858.2,272.6" fill="none" stroke="#000" stroke-width="6.10" stroke-linecap="butt" stroke-linejoin="round"/>
<path d="M846.5,267.1 L857.3,260.6" fill="none" stroke="#fff" stroke-width="2.60" stroke-linecap="butt" stroke-linejoin="round"/>
<path d="M848.3,272.6 L858.2,272.6" fill="none" stroke="#fff" stroke-width="2.60" stroke-linecap="butt" stroke-linejoin="round"/>
<path class="wb" d="M857.33,255.96 L871.77,258.66 L870.87,265.88 L857.33,262.64Z" />
<path class="wb" d="M858.23,267.69 L871.77,271.3 L870.32,278.52 L857.33,274.91Z" />
<path class="wb" d="M857.33,255.96 L861.3,253.79 L874.48,256.32 L871.77,258.66Z" />
<path class="wb" d="M858.23,267.69 L862.02,265.7 L874.48,268.95 L871.77,271.3Z" />
<path d="M838.4,259.9 C840.0,259.3 845.9,258.4 848.3,256.0 C850.7,253.5 851.9,248.4 852.8,245.1 C853.7,241.8 853.0,238.1 853.7,236.1 C854.5,234.1 855.8,232.9 857.3,233.4 C858.8,233.8 861.5,238.7 862.7,238.8 C863.9,239.0 864.4,236.4 864.5,234.3 C864.7,232.2 864.0,227.5 863.8,226.2" fill="none" stroke="#000" stroke-width="2.2" stroke-linecap="round" stroke-linejoin="round"/>
<ellipse class="w" cx="863.6" cy="222.6" rx="1.8" ry="3.6" style="stroke-width:1.6"/>
<path d="M817.8,265.4 C818.4,267.5 820.3,274.0 821.4,278.1 C822.5,282.1 824.9,287.1 824.3,289.8 C823.7,292.5 819.7,292.6 817.8,294.3 C815.8,296.0 813.4,298.0 812.7,300.1 C812.0,302.1 813.3,305.5 813.4,306.6" fill="none" stroke="#000" stroke-width="5.90" stroke-linecap="butt" stroke-linejoin="round"/>
<path d="M817.8,265.4 C818.4,267.5 820.3,274.0 821.4,278.1 C822.5,282.1 824.9,287.1 824.3,289.8 C823.7,292.5 819.7,292.6 817.8,294.3 C815.8,296.0 813.4,298.0 812.7,300.1 C812.0,302.1 813.3,305.5 813.4,306.6" fill="none" stroke="#fff" stroke-width="2.40" stroke-linecap="butt" stroke-linejoin="round"/>
<g transform="translate(815.05 307.29) rotate(10)"><rect class="wb" x="-2.71" y="-2.35" width="5.42" height="4.69"/></g>
<path d="M844.8,303.3 C845.7,304.8 847.8,310.5 850.2,312.4 C852.7,314.2 856.5,314.4 859.3,314.1 C862.0,313.9 865.6,311.4 866.9,310.9" fill="none" stroke="#000" stroke-width="6.30" stroke-linecap="butt" stroke-linejoin="round"/>
<path d="M843.9,307.3 C844.7,308.8 846.2,314.2 848.5,316.3 C850.7,318.4 854.7,319.9 857.5,319.9 C860.2,319.9 863.8,316.9 865.0,316.3" fill="none" stroke="#000" stroke-width="5.70" stroke-linecap="butt" stroke-linejoin="round"/>
<path d="M832.6,318.1 C831.0,319.0 826.2,322.3 823.2,323.2 C820.2,324.0 816.0,323.2 814.5,323.2" fill="none" stroke="#000" stroke-width="5.70" stroke-linecap="butt" stroke-linejoin="round"/>
<path d="M829.0,312.7 L826.4,308.4" fill="none" stroke="#000" stroke-width="5.70" stroke-linecap="butt" stroke-linejoin="round"/>
<path d="M836.2,306.0 C836.0,308.3 835.2,315.8 835.1,319.6 C835.0,323.4 835.7,327.4 835.8,328.9" fill="none" stroke="#000" stroke-width="6.30" stroke-linecap="butt" stroke-linejoin="round"/>
<path d="M840.5,305.1 L840.5,323.2" fill="none" stroke="#000" stroke-width="6.30" stroke-linecap="butt" stroke-linejoin="round"/>
<path d="M844.8,303.3 C845.7,304.8 847.8,310.5 850.2,312.4 C852.7,314.2 856.5,314.4 859.3,314.1 C862.0,313.9 865.6,311.4 866.9,310.9" fill="none" stroke="#fff" stroke-width="2.80" stroke-linecap="butt" stroke-linejoin="round"/>
<path d="M843.9,307.3 C844.7,308.8 846.2,314.2 848.5,316.3 C850.7,318.4 854.7,319.9 857.5,319.9 C860.2,319.9 863.8,316.9 865.0,316.3" fill="none" stroke="#fff" stroke-width="2.20" stroke-linecap="butt" stroke-linejoin="round"/>
<path d="M832.6,318.1 C831.0,319.0 826.2,322.3 823.2,323.2 C820.2,324.0 816.0,323.2 814.5,323.2" fill="none" stroke="#fff" stroke-width="2.20" stroke-linecap="butt" stroke-linejoin="round"/>
<path d="M829.0,312.7 L826.4,308.4" fill="none" stroke="#fff" stroke-width="2.20" stroke-linecap="butt" stroke-linejoin="round"/>
<path d="M836.2,306.0 C836.0,308.3 835.2,315.8 835.1,319.6 C835.0,323.4 835.7,327.4 835.8,328.9" fill="none" stroke="#fff" stroke-width="2.80" stroke-linecap="butt" stroke-linejoin="round"/>
<path d="M840.5,305.1 L840.5,323.2" fill="none" stroke="#fff" stroke-width="2.80" stroke-linecap="butt" stroke-linejoin="round"/>
<g transform="translate(868.66 310.18) rotate(10)"><rect class="wb" x="-3.07" y="-3.97" width="6.14" height="7.94"/></g>
<g transform="translate(812.71 319.21) rotate(10)"><rect class="wb" x="-3.07" y="-3.07" width="6.14" height="6.14"/></g>
<g transform="translate(827.15 306.03) rotate(10)"><rect class="wb" x="-3.07" y="-3.61" width="6.14" height="7.22"/></g>
<path d="M846.6,326.1 C849.0,326.5 857.5,327.9 861.1,328.9 C864.7,330.0 866.4,330.8 868.3,332.6 C870.2,334.4 871.6,338.6 872.3,339.8" fill="none" stroke="#000" stroke-width="6.30" stroke-linecap="butt" stroke-linejoin="round"/>
<path d="M861.1,328.9 L871.9,330.8" fill="none" stroke="#000" stroke-width="5.90" stroke-linecap="butt" stroke-linejoin="round"/>
<path d="M846.6,326.1 C849.0,326.5 857.5,327.9 861.1,328.9 C864.7,330.0 866.4,330.8 868.3,332.6 C870.2,334.4 871.6,338.6 872.3,339.8" fill="none" stroke="#fff" stroke-width="2.80" stroke-linecap="butt" stroke-linejoin="round"/>
<path d="M861.1,328.9 L871.9,330.8" fill="none" stroke="#fff" stroke-width="2.40" stroke-linecap="butt" stroke-linejoin="round"/>
<path class="wb" d="M834.01,321.37 L846.64,323.18 L846.28,330.76 L839.42,333.29 L834.01,330.76Z" />
<path class="l" d="M836.7,322.3 L836.7,331.3 M840.3,322.6 L840.1,332.6 M843.4,323.0 L843.0,331.8"/>
<g transform="translate(875.52 331.3) rotate(10)"><rect class="wb" x="-3.43" y="-3.61" width="6.86" height="7.22"/></g>
<g transform="translate(874.8 341.59) rotate(10)"><rect class="wb" x="-3.43" y="-3.25" width="6.86" height="6.50"/></g>
<g transform="translate(793.39 265.05) rotate(15)"><rect class="wb" x="-6.32" y="-2.89" width="12.64" height="5.78"/></g>
<g transform="translate(864.69 273.54) rotate(15)"><rect class="wb" x="-7.22" y="-3.97" width="14.44" height="7.94"/></g>
<g transform="translate(866.5 262.17) rotate(15)"><rect class="wb" x="-5.42" y="-2.35" width="10.83" height="4.69"/></g>
<g transform="translate(765.05 297.55) rotate(10)"><rect class="wb" x="-4.51" y="-6.32" width="9.03" height="12.64"/></g>
<path d="M760.0,294.3 C760.9,294.0 763.8,293.0 765.4,292.5 C767.1,291.9 769.2,291.3 769.9,291.1" fill="none" stroke="#000" stroke-width="1.4" stroke-linecap="round" stroke-linejoin="round"/>
<text class="d" transform="translate(410.83 88.05) scale(1.1 1)" x="-11.54" y="0">164</text>
<text class="d" transform="translate(430.87 88.05) scale(1.1 1)" x="-3.75" y="0">5</text>
<path class="l" d="M358.66,85.88 L358.66,105.2"/>
<path class="l" d="M480.14,87.15 L480.14,157.0"/>
<path class="l" d="M359.21,90.94 L479.78,90.94"/>
<path class="k" d="M359.21,90.94 L367.21,89.04 L367.21,92.84Z"/>
<path class="k" d="M479.78,90.94 L471.78,92.84 L471.78,89.04Z"/>
<text class="n" transform="translate(317.41 140.04) scale(1.0 1)" x="-9.80" y="0">20</text>
<path class="l" d="M328.88,134.08 L343.32,134.08"/>
<g transform="translate(300 70) scale(0.18051)" ><path class="k" d="M278,206 H327 V270 H278Z M278,438 H327 V507 H278Z"/><path class="wt" d="M288,216 H320 V260 H300 L288,250Z M288,496 H320 V452 H300 L288,462Z"/><path class="l" d="M300,238 H315 M305,232 L300,238 L305,244 M300,474 H315 M305,468 L300,474 L305,480"/><path class="w" d="M296,270 H324 V438 H296Z"/><path class="l" d="M306,285 V345 M306,365 V425 M296,345 H324 M296,365 H324"/><path class="k" d="M296,312 C262,318 240,335 238,353 C240,372 262,390 296,396Z"/><path d="M252,353 H280 M270,345 L280,353 L270,361" stroke="#fff" stroke-width="1" fill="none" vector-effect="non-scaling-stroke"/><path class="w" d="M327,225 H924 L996,232.0 Q1008,239.0 996,246.0 L924,253 H327Z"/><path class="l" d="M914,236.0 L994,239.0"/><path d="M345.0,232 V246 M357.2,232 V246 M369.3,232 V246 M381.5,232 V246 M393.6,232 V246 M405.8,232 V246 M418.0,232 V246 M430.1,232 V246 M442.3,232 V246 M454.4,232 V246 M466.6,232 V246 M478.8,232 V246 M490.9,232 V246 M503.1,232 V246 M515.2,232 V246 M527.4,232 V246 M539.5,232 V246 M551.7,232 V246 M563.9,232 V246 M576.0,232 V246 M588.2,232 V246 M600.3,232 V246 M612.5,232 V246 M624.7,232 V246 M636.8,232 V246 M649.0,232 V246 M661.1,232 V246 M673.3,232 V246 M685.5,232 V246 M697.6,232 V246 M709.8,232 V246 M721.9,232 V246 M734.1,232 V246 M746.2,232 V246 M758.4,232 V246 M770.6,232 V246 M782.7,232 V246 M794.9,232 V246 M807.0,232 V246 M819.2,232 V246 M831.4,232 V246 M843.5,232 V246 M855.7,232 V246 M867.8,232 V246 M880.0,232 V246 " fill="none" stroke="#000" stroke-width="6.08"/><path class="t" d="M340,232 H885 M340,246 H885"/><path class="w" d="M327,460 H924 L996,467.0 Q1008,474.0 996,481.0 L924,488 H327Z"/><path class="l" d="M914,471.0 L994,474.0"/><path d="M345.0,467 V481 M357.2,467 V481 M369.3,467 V481 M381.5,467 V481 M393.6,467 V481 M405.8,467 V481 M418.0,467 V481 M430.1,467 V481 M442.3,467 V481 M454.4,467 V481 M466.6,467 V481 M478.8,467 V481 M490.9,467 V481 M503.1,467 V481 M515.2,467 V481 M527.4,467 V481 M539.5,467 V481 M551.7,467 V481 M563.9,467 V481 M576.0,467 V481 M588.2,467 V481 M600.3,467 V481 M612.5,467 V481 M624.7,467 V481 M636.8,467 V481 M649.0,467 V481 M661.1,467 V481 M673.3,467 V481 M685.5,467 V481 M697.6,467 V481 M709.8,467 V481 M721.9,467 V481 M734.1,467 V481 M746.2,467 V481 M758.4,467 V481 M770.6,467 V481 M782.7,467 V481 M794.9,467 V481 M807.0,467 V481 M819.2,467 V481 M831.4,467 V481 M843.5,467 V481 M855.7,467 V481 M867.8,467 V481 M880.0,467 V481 " fill="none" stroke="#000" stroke-width="6.08"/><path class="t" d="M340,467 H885 M340,481 H885"/></g>
<text class="d" transform="translate(411.19 179.08) scale(1.1 1)" x="-11.41" y="0">101</text>
<text class="d" transform="translate(430.87 179.08) scale(1.1 1)" x="-3.75" y="0">5</text>
<path class="l" d="M372.74,176.73 L372.74,255.25"/>
<path class="l" d="M466.06,179.08 L466.06,254.71"/>
<path class="l" d="M373.29,182.69 L465.7,182.69"/>
<path class="k" d="M373.29,182.69 L381.29,180.79 L381.29,184.59Z"/>
<path class="k" d="M465.7,182.69 L457.70,184.59 L457.70,180.79Z"/>
<text class="n" transform="translate(318.24 232.15) scale(1.0 1)" x="-9.71" y="0">21</text>
<path class="l" d="M331.05,227.27 L346.57,227.27"/>
<g transform="translate(300 165) scale(0.18051)" ><path class="k" d="M336,168 H407 V242 H336Z M336,436 H407 V502 H336Z"/><path class="wt" d="M350,188 H396 V230 H362 L350,218Z M350,484 H396 V448 H362 L350,460Z"/><path class="l" d="M362,210 H384 M368,203 L362,210 L368,217 M374,198 V222 M362,466 H384 M368,459 L362,466 L368,473 M374,454 V478"/><path class="w" d="M384,242 H404 V436 H384Z"/><path class="l" d="M345,242 C350,262 365,268 368,290 M345,436 C350,416 365,410 368,388 M368,242 C372,262 384,270 384,290 M368,436 C372,416 384,408 384,388"/><path class="w" d="M258,338 C262,310 285,290 318,272 L345,290 V392 L318,410 C285,392 262,368 258,338Z"/><path class="l" d="M272,332 L330,300 V332 Z M272,352 L330,384 V352Z M258,338 H272 M318,272 V410"/><path class="b" d="M318,245 C338,270 338,300 332,318 M318,428 C338,405 338,375 332,360"/><path class="w" d="M345,308 H376 V372 H345Z"/><path class="w" d="M376,330 H398 Q404,338 398,346 H376Z"/><path class="w" d="M407,190 H845 L917,199.0 Q929,206.0 917,213.0 L845,222 H407Z"/><path class="l" d="M835,203.0 L915,206.0"/><path d="M415.0,197 V215 M425.5,197 V215 M436.0,197 V215 M446.5,197 V215 M457.0,197 V215 M467.5,197 V215 M478.0,197 V215 M488.5,197 V215 M499.0,197 V215 M509.5,197 V215 M520.0,197 V215 M530.5,197 V215 M541.0,197 V215 M551.5,197 V215 M562.0,197 V215 M572.5,197 V215 M583.0,197 V215 M593.5,197 V215 M604.0,197 V215 M614.5,197 V215 M625.0,197 V215 M635.5,197 V215 M646.0,197 V215 M656.5,197 V215 M667.0,197 V215 M677.5,197 V215 M688.0,197 V215 M698.5,197 V215 M709.0,197 V215 M719.5,197 V215 M730.0,197 V215 M740.5,197 V215 M751.0,197 V215 M761.5,197 V215 M772.0,197 V215 M782.5,197 V215 M793.0,197 V215 M803.5,197 V215 M814.0,197 V215 M824.5,197 V215 M835.0,197 V215 " fill="none" stroke="#000" stroke-width="5.25"/><path class="t" d="M410,197 H840 M410,215 H840"/><path class="w" d="M407,452 H845 L917,461.0 Q929,468.0 917,475.0 L845,484 H407Z"/><path class="l" d="M835,465.0 L915,468.0"/><path d="M415.0,459 V477 M425.5,459 V477 M436.0,459 V477 M446.5,459 V477 M457.0,459 V477 M467.5,459 V477 M478.0,459 V477 M488.5,459 V477 M499.0,459 V477 M509.5,459 V477 M520.0,459 V477 M530.5,459 V477 M541.0,459 V477 M551.5,459 V477 M562.0,459 V477 M572.5,459 V477 M583.0,459 V477 M593.5,459 V477 M604.0,459 V477 M614.5,459 V477 M625.0,459 V477 M635.5,459 V477 M646.0,459 V477 M656.5,459 V477 M667.0,459 V477 M677.5,459 V477 M688.0,459 V477 M698.5,459 V477 M709.0,459 V477 M719.5,459 V477 M730.0,459 V477 M740.5,459 V477 M751.0,459 V477 M761.5,459 V477 M772.0,459 V477 M782.5,459 V477 M793.0,459 V477 M803.5,459 V477 M814.0,459 V477 M824.5,459 V477 M835.0,459 V477 " fill="none" stroke="#000" stroke-width="5.25"/><path class="t" d="M410,459 H840 M410,477 H840"/></g>
<text class="d" transform="translate(406.95 291.59) scale(1.1 1)" x="-11.47" y="0">140</text>
<text class="d" transform="translate(426.99 291.59) scale(1.1 1)" x="-3.71" y="0">3</text>
<path class="l" d="M368.23,280.22 L368.23,314.15"/>
<path class="l" d="M459.21,282.02 L459.21,327.15"/>
<path class="l" d="M368.77,295.38 L458.84,295.38"/>
<path class="k" d="M368.77,295.38 L376.77,293.48 L376.77,297.28Z"/>
<path class="k" d="M458.84,295.38 L450.84,297.28 L450.84,293.48Z"/>
<text class="n" transform="translate(320.75 317.40) scale(1.0 1)" x="-9.71" y="0">22</text>
<path class="l" d="M332.49,312.35 L348.74,312.35"/>
<g transform="translate(300 260) scale(0.18051)" ><path class="w" d="M420,355 L888,352 V366 L560,378 L420,378Z"/><path class="k" d="M560,352 L888,352 V362 L560,360Z"/><path class="w" d="M278,250 C285,232 320,228 335,240 C345,255 362,268 378,295 L392,335 L420,355 V378 C400,372 390,360 380,345 L340,362 H282 C272,330 272,280 278,250Z"/><path class="k" d="M285,252 C292,238 318,238 326,250 C334,280 325,330 318,358 H290 C282,330 280,280 285,252Z"/><path d="M300,260 C310,255 316,262 314,280 C312,310 305,335 300,345 C294,320 294,280 300,260Z" fill="#fff"/><path class="l" d="M330,315 H352 V355 H330Z M340,320 V350 M372,312 H388 V328 H372Z M428,346 H440 V356 H428Z"/><path d="M262,260 h5 M258,290 h5 M260,318 h5 M262,345 h5 M520,128 h5 M545,122 h5 M525,185 h5 M540,200 h5 M565,200 h5 M525,378 h6" stroke="#000" stroke-width="4" fill="none"/></g>
<text class="n" transform="translate(257.80 388.05) scale(1.0 1)" x="-4.90" y="0">6</text>
<path class="l" d="M257.87,393.1 L257.87,408.99"/>
<text class="n" transform="translate(277.87 396.71) scale(1.0 1)" x="-4.86" y="0">5</text>
<path class="l" d="M277.65,402.06 L277.65,417.65"/>
<text class="n" transform="translate(297.73 405.09) scale(1.0 1)" x="-4.81" y="0">4</text>
<path class="l" d="M297.58,411.16 L297.58,427.76"/>
<text class="n" transform="translate(318.81 413.61) scale(1.0 1)" x="-4.81" y="0">3</text>
<path class="l" d="M318.81,419.82 L318.81,437.87"/>
<text class="n" transform="translate(351.15 413.32) scale(1.0 1)" x="-4.90" y="0">8</text>
<path class="l" d="M351.3,419.1 L351.3,433.54"/>
<g transform="translate(230 370) scale(0.14440)" ><g transform="translate(0 0)"><path class="k" d="M135,246 L242,286 L236,312 L214,388 L95,340 L114,296Z"/><path d="M146,264 L180,277 L154,344 L120,330Z M194,283 L230,296 L208,364 L172,350Z" fill="#fff"/><path d="M166,276 L136,334 M214,294 L188,356" stroke="#000" stroke-width="4.5" fill="none"/></g><g transform="translate(138 62)"><path class="k" d="M135,246 L242,286 L236,312 L214,388 L95,340 L114,296Z"/><path d="M146,264 L180,277 L154,344 L120,330Z M194,283 L230,296 L208,364 L172,350Z" fill="#fff"/><path d="M166,276 L136,334 M214,294 L188,356" stroke="#000" stroke-width="4.5" fill="none"/></g><g transform="translate(276 127)"><path class="k" d="M135,246 L242,286 L236,312 L214,388 L95,340 L114,296Z"/><path d="M146,264 L180,277 L154,344 L120,330Z M194,283 L230,296 L208,364 L172,350Z" fill="#fff"/><path d="M166,276 L136,334 M214,294 L188,356" stroke="#000" stroke-width="4.5" fill="none"/></g><g transform="translate(420 190)"><path class="k" d="M135,246 L242,286 L236,312 L214,388 L95,340 L114,296Z"/><path d="M146,264 L180,277 L154,344 L120,330Z M194,283 L230,296 L208,364 L172,350Z" fill="#fff"/><path d="M166,276 L136,334 M214,294 L188,356" stroke="#000" stroke-width="4.5" fill="none"/></g><path d="M330,230 h14 M330,250 h12 M330,270 h12 M330,290 h10 M462,288 h18 M462,310 h8 M218,268 h6 M200,262 h5 M655,505 h6 M518,492 h6" stroke="#000" stroke-width="4" fill="none"/></g>
<g transform="translate(330 365) scale(0.14440)" ><path class="w" style="stroke-width:2.0" d="M280,92 L370,127 L378,105 L440,126 L448,85 L548,122 L570,78 L690,127 L700,165 L785,212 L770,252 L812,270 L800,302 L868,347 L850,402 L885,410 L866,466 L830,455 L800,470 L775,492 L760,527 L700,507 L640,520 L545,495 L380,412 L290,372 L305,322 L222,270 L250,182 L262,172 Z"/><path class="l" style="stroke-width:1.8" d="M370,127 L440,150 L520,180 L660,235 L770,252 M520,180 L470,300 M548,122 L560,165 L630,195 L655,127 M630,195 L700,165 M660,235 L625,360 L690,395 L735,290 L800,302 M690,395 L800,455 M440,270 L545,320 L500,450 M440,270 L415,330 L490,360 L505,318 M470,240 L505,255 L490,300 L462,288Z M590,370 L830,455 M580,400 L545,495 M305,322 L360,345 L345,395 M360,345 L380,412 M448,85 L440,126 M470,100 L500,112 L492,140 L462,128Z M760,260 L800,275 M850,402 L830,455 M700,470 L775,492"/><path class="k" d="M520,225 L565,240 L540,320 L498,300Z M560,430 L650,462 L632,515 L545,490Z M275,135 L300,130 L305,155 L280,160Z M405,150 L432,155 L425,185 L400,175Z M672,272 L700,280 L692,305 L665,295Z M285,255 L370,262 L385,300 L340,305Z"/><path d="M535,240 L515,300 M552,245 L532,305 M585,445 L570,490 M610,452 L595,498 M632,460 L618,505 M300,262 L325,290 M335,262 L360,295" stroke="#fff" stroke-width="5" fill="none"/><path d="M395,330 L370,400 M540,340 L495,455 M525,335 L480,445 M725,295 L690,390 M840,415 L870,425 M680,470 L760,495" stroke="#000" stroke-width="8" fill="none"/><path d="M310,330 L352,348 L338,388 L296,370Z" class="w" style="stroke-width:2.2"/></g>
<g transform="translate(290 420) scale(0.14440)" ><g transform="translate(0 0)"><path class="w" style="stroke-width:1.9" d="M355,100 L420,125 L365,275 L300,245Z"/><path class="w" style="stroke-width:1.9" d="M420,125 L440,130 L636,186 L558,360 L365,275Z"/><path class="w" style="stroke-width:1.7" d="M466,44 L502,52 L642,128 L634,170 L492,112 L458,122 Z"/><path class="l" style="stroke-width:1.7" d="M440,130 L385,280 M425,170 L622,222 M402,228 L590,300 M492,112 L500,70 L640,140"/><path d="M480,52 L462,120 M412,150 L382,235" stroke="#000" stroke-width="10" fill="none"/><path d="M512,72 L505,112 M538,84 L531,124 M564,97 L557,136 M590,110 L583,148 M614,122 L608,158 M634,134 L630,165" stroke="#000" stroke-width="9" fill="none"/><path d="M305,180 h6 M330,165 h5 M300,265 h6 M455,150 h5 M500,185 h5 M585,180 h5 M480,240 h5 M545,265 h5 M460,345 h6 M540,380 h6 M648,160 h6 M375,195 h5 M600,250 h5 M470,300 h5 M540,320 h5" stroke="#000" stroke-width="4" fill="none"/></g><g transform="translate(375 165)"><path class="w" style="stroke-width:1.9" d="M355,100 L420,125 L365,275 L300,245Z"/><path class="w" style="stroke-width:1.9" d="M420,125 L440,130 L636,186 L558,360 L365,275Z"/><path class="w" style="stroke-width:1.7" d="M466,44 L502,52 L642,128 L634,170 L492,112 L458,122 Z"/><path class="l" style="stroke-width:1.7" d="M440,130 L385,280 M425,170 L622,222 M402,228 L590,300 M492,112 L500,70 L640,140"/><path d="M480,52 L462,120 M412,150 L382,235" stroke="#000" stroke-width="10" fill="none"/><path d="M512,72 L505,112 M538,84 L531,124 M564,97 L557,136 M590,110 L583,148 M614,122 L608,158 M634,134 L630,165" stroke="#000" stroke-width="9" fill="none"/><path d="M305,180 h6 M330,165 h5 M300,265 h6 M455,150 h5 M500,185 h5 M585,180 h5 M480,240 h5 M545,265 h5 M460,345 h6 M540,380 h6 M648,160 h6 M375,195 h5 M600,250 h5 M470,300 h5 M540,320 h5" stroke="#000" stroke-width="4" fill="none"/></g></g>
<text class="n" transform="translate(460.30 479.17) scale(1.0 1)" x="-4.86" y="0">7</text>
<path class="l" d="M436.29,473.36 L453.98,473.36"/>
<text class="n" transform="translate(411.65 515.82) scale(1.0 1)" x="-4.86" y="0">9</text>
<path class="l" d="M385.75,511.52 L405.21,511.52"/>
<text class="n" transform="translate(294.76 497.04) scale(1.0 1)" x="-4.86" y="0">9</text>
<path class="l" d="M301.05,491.26 L324.15,491.26"/>
<g transform="translate(270 440) scale(0.14440)" ><g transform="translate(0 0)"><path class="w" d="M418,262 L448,275 L408,392 L378,380Z"/><path d="M410,290 L440,300 M404,308 L434,318 M398,326 L428,336 M392,344 L422,354 M386,362 L416,372" stroke="#000" stroke-width="8" fill="none"/><path d="M424,282 L392,375" stroke="#fff" stroke-width="3" fill="none"/><path class="w" style="stroke-width:1.6" d="M350,378 L412,400 L400,442 L338,420Z"/><path class="l" d="M380,390 L368,430 M345,400 L405,420"/><path d="M375,378 L412,392" stroke="#000" stroke-width="9" fill="none"/></g><g transform="translate(372 142)"><path class="w" d="M418,262 L448,275 L408,392 L378,380Z"/><path d="M410,290 L440,300 M404,308 L434,318 M398,326 L428,336 M392,344 L422,354 M386,362 L416,372" stroke="#000" stroke-width="8" fill="none"/><path d="M424,282 L392,375" stroke="#fff" stroke-width="3" fill="none"/><path class="w" style="stroke-width:1.6" d="M350,378 L412,400 L400,442 L338,420Z"/><path class="l" d="M380,390 L368,430 M345,400 L405,420"/><path d="M375,378 L412,392" stroke="#000" stroke-width="9" fill="none"/></g></g>
<text class="d" transform="translate(1035.10 539.80) scale(0.985 1)" x="-37.91" y="0" style="font-size:12.7px">T7S4B0702A</text>
<path class="k" d="M1049.7,33.1 L1071.2,24 L1070,18.3 L1086.6,24.6 L1080,41 L1076.9,37.2 L1055.4,46.1Z"/>
<text transform="translate(1024.4 59.3) rotate(-22.5)" x="0" y="0" style="font-size:18.5px;font-weight:bold;stroke-width:1.5px;stroke-linejoin:round">FR.</text>
<g transform="translate(530 260) scale(0.12636)" ><path class="w" style="stroke-width:1.5" d="M200,118 L350,195 L360,212 L485,265 L452,312 L330,262 L320,265 L160,188 L178,140Z"/><path class="k" d="M198,130 L295,180 L270,225 L172,178Z"/><path d="M215,150 L200,185 M250,165 L235,202" stroke="#fff" stroke-width="14" fill="none"/><path class="l" d="M300,190 L345,212 L328,250 L282,228Z"/><path d="M365,225 L470,272 M352,258 L450,300" stroke="#000" stroke-width="10" fill="none"/></g>
<path class="l" d="M570.69,292.22 L570.69,316.86"/>
<text class="n" transform="translate(571.46 333.06) scale(1.0 1)" x="-4.86" y="0">2</text>
<text class="n" transform="translate(542.95 390.13) scale(1.0 1)" x="-10.02" y="0">10</text>
<path class="l" d="M554.26,384.95 L573.59,384.95"/>
<path class="l" d="M579.53,397.96 L579.53,414.39 L662.04,378.38"/>
<g transform="translate(530 355) scale(0.12636)" ><path class="w" d="M358,225 H426 V335 Q392,345 358,335Z"/><path d="M358,262 H426 M358,285 H426 M358,308 H426 M358,328 H426" stroke="#000" stroke-width="9" fill="none"/><path class="w" style="stroke-width:1.5" d="M325,190 C330,150 360,122 395,122 C435,122 462,150 466,190 V215 C440,235 350,235 325,215Z"/><path class="l" style="stroke-width:1.5" d="M325,195 C360,215 430,215 466,195 M345,160 C370,185 420,185 445,160 M370,145 C385,155 405,155 420,145"/><path d="M330,212 C360,228 430,228 462,212" stroke="#000" stroke-width="9" fill="none"/></g>
<text class="n" transform="translate(672.55 157.60) scale(1.0 1)" x="-9.27" y="0">11</text>
<path class="l" d="M672.8,126.64 L672.8,141.18"/>
<path class="l" d="M630.22,134.86 L646.64,127.91"/>
<g transform="translate(610 90) scale(0.12636)" ><path class="w" style="stroke-width:1.6" d="M488,150 L530,138 L572,165 L580,215 L556,252 L516,270 Z"/><path class="l" d="M530,138 L538,182 L580,215 M538,182 L520,268"/><ellipse class="w" style="stroke-width:1.7" cx="474" cy="224" rx="40" ry="70" transform="rotate(-20 474 224)"/><ellipse class="l" cx="468" cy="227" rx="29" ry="55" transform="rotate(-20 468 227)"/><path class="w" style="stroke-width:1.6" d="M338,250 L455,203 L478,252 L358,302 C330,312 312,268 338,250Z"/><path d="M362,242 L382,290 M386,232 L406,280 M410,222 L430,270 M434,212 L454,260" stroke="#000" stroke-width="7" fill="none"/></g>
<text class="n" transform="translate(801.94 164.37) scale(1.0 1)" x="-9.27" y="0">11</text>
<path class="l" d="M802.13,170.18 L802.13,185.6"/>
<path class="l" d="M767.38,172.96 L779.39,181.81"/>
<g transform="translate(720 130) scale(0.12636)" ><path class="w" style="stroke-width:1.6" d="M655,462 L705,498 L712,556 L682,598 L632,590 L600,560Z"/><path class="l" d="M668,520 L705,498 M668,520 L682,598 M668,520 L642,468"/><ellipse class="w" style="stroke-width:1.7" cx="622" cy="508" rx="38" ry="68" transform="rotate(32 622 508)"/><ellipse class="l" cx="616" cy="505" rx="28" ry="54" transform="rotate(32 616 505)"/><path class="w" style="stroke-width:1.6" d="M500,388 L612,462 L582,512 L470,440 C455,415 480,385 500,388Z"/><path d="M515,402 L488,446 M540,418 L512,462 M565,434 L538,478 M590,450 L562,494" stroke="#000" stroke-width="7" fill="none"/></g>
<path class="c" d="M693.7,197.5 V121.2 L751,161.6 M708.5,131.5 V257 M723,142.6 V258"/>
</svg>
</body></html>
